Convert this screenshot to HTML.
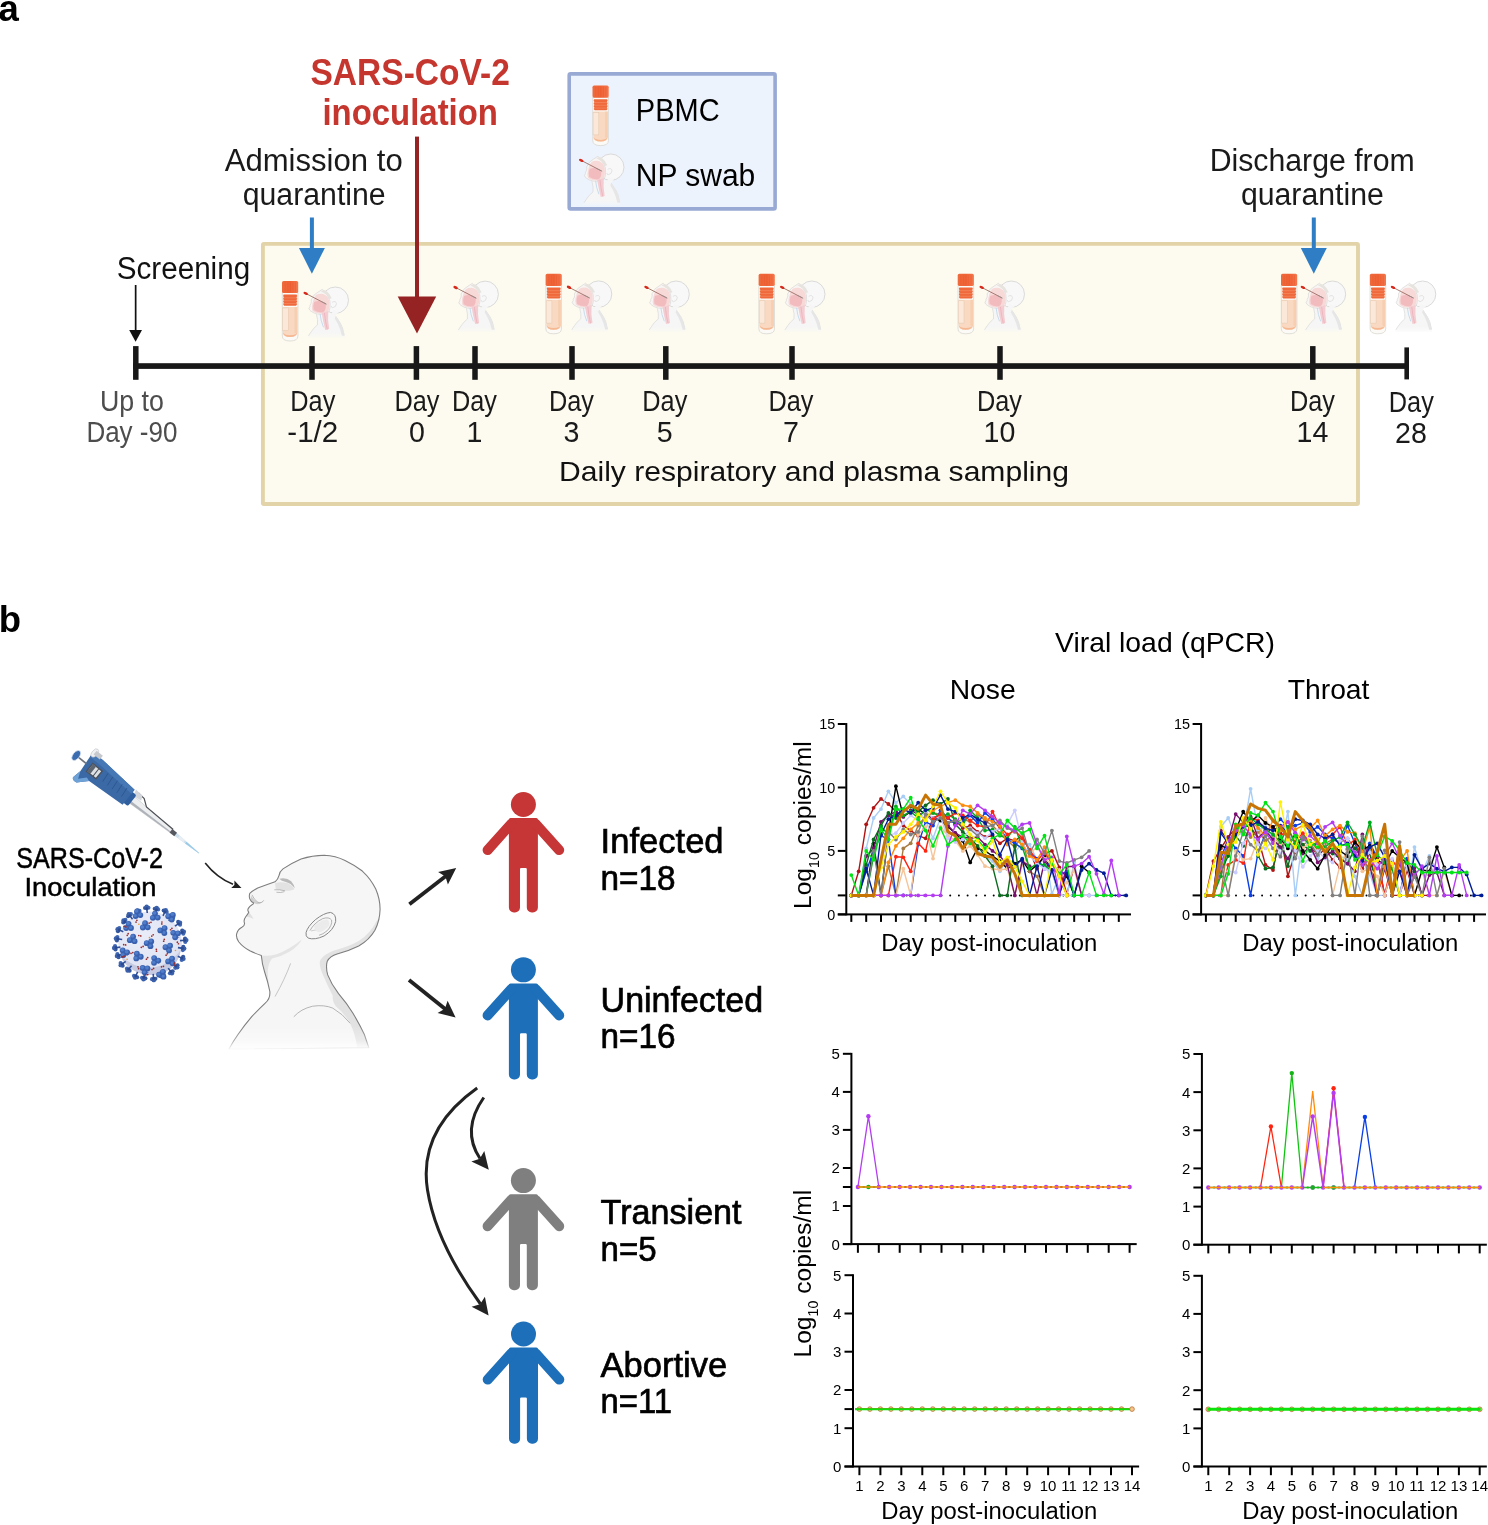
<!DOCTYPE html>
<html lang="en"><head><meta charset="utf-8"><title>Figure</title>
<style>
html,body{margin:0;padding:0;background:#fff;}
svg{display:block;font-family:'Liberation Sans', sans-serif;}
</style></head>
<body>
<svg width="1488" height="1525" viewBox="0 0 1488 1525">
<rect width="1488" height="1525" fill="#fff"/>

<defs>
<linearGradient id="capg" x1="0" x2="1" y1="0" y2="0">
 <stop offset="0" stop-color="#ee6a3c"/><stop offset="0.5" stop-color="#ef6236"/><stop offset="1" stop-color="#f4774d"/>
</linearGradient>
<linearGradient id="bodyfade" x1="0" x2="0" y1="0" y2="1">
 <stop offset="0" stop-color="#f6f6f6"/><stop offset="0.8" stop-color="#f6f6f6"/><stop offset="1" stop-color="#f6f6f6" stop-opacity="0.35"/>
</linearGradient>
<g id="tube">
 <path d="M0.3 11.5 V55 Q0.3 60 8 60 Q15.9 60 15.9 55 V11.5 Z" fill="#fbfaf6" stroke="#d4d2cc" stroke-width="0.7"/>
 <path d="M0.9 26 H15.3 V52 Q15.3 56 8 56 Q0.9 56 0.9 52 Z" fill="#f9d9c1"/>
 <path d="M0.9 50 Q0.9 56 8 56 Q15.3 56 15.3 50 Q15.3 54.3 8 54.3 Q0.9 54.3 0.9 50Z" fill="#f5b892"/>
 <rect x="12.6" y="26" width="2.7" height="26" fill="#f6c9a8" opacity="0.7"/>
 <rect x="0.6" y="27" width="5.7" height="22.3" fill="#fbe8d8" stroke="#e3c9b4" stroke-width="0.5"/>
 <path d="M1.6 13.6 H14.6 L15.2 15 L14.4 16.4 L15.2 17.8 L14.4 19.2 L15.2 20.6 L14.4 22 L15 23.4 L14 24.7 H2.2 L1.2 23.4 L1.9 22 L1.1 20.6 L1.9 19.2 L1.1 17.8 L1.9 16.4 L1.1 15 Z" fill="#f0693c"/>
 <path d="M1.5 16.9 H14.8 M1.5 19.7 H14.8 M1.5 22.5 H14.8" stroke="#f58a62" stroke-width="0.7"/>
 <rect x="0" y="0" width="16.2" height="12.1" rx="1.6" fill="url(#capg)"/>
 <path d="M3.2 1.5 V11 M5.8 1.5 V11 M8.4 1.5 V11 M11 1.5 V11 M13.4 1.5 V11" stroke="#e85a2e" stroke-width="0.8" opacity="0.7"/>
</g>
<g id="swabhead">
 <path d="M9.1 28.5 Q10.8 34 10.2 39.2 Q6 42.5 3.8 46.2 Q1.5 49.5 0 52 H37.6 Q37.4 49 37.1 48.9 Q35.5 41 32.8 37.1 Q29 31.5 26.3 27.4 Z" fill="url(#bodyfade)"/>
 <path d="M9.1 28.5 Q10.8 34 10.2 39.2 Q6 42.5 3.8 46.2 Q2.4 48.2 1.2 50.2 M36.9 49.5 Q35.5 41 32.8 37.1 Q29 31.5 26.3 27.4" fill="none" stroke="#d9d9d9" stroke-width="0.7"/>
 <path d="M27.5 29 Q31 33 33.5 38.5 Q36 44.5 37.2 50 L34.6 50 Q33 43 30.5 38 Q28 33 25.5 30Z" fill="#e6e6e6"/>
 <circle cx="28" cy="14.5" r="13.2" fill="#f8f8f8" stroke="#d2d2d2" stroke-width="0.8"/>
 <path d="M26 24 Q30 27 33 25 Q28 29 27.5 33 L24 29Z" fill="#f6f6f6"/>
 <path d="M15 3.6 Q10.5 6.5 7 9.1 Q5.6 11.5 3.8 14.2 Q4.4 16 3.6 18 L2.6 19.8 Q3.2 21 1.6 22.6 Q2 24.6 3.8 25.6 Q6.5 27.6 10.2 28.3 L16.1 28.6 Q19.5 28.6 21.4 26.3 Q22.8 23.5 22.8 19.9 Q23.2 14.5 21 11.3 Q19 6 15 3.6Z" fill="#f8f6f5" stroke="#d4d0d0" stroke-width="0.6"/>
 <path d="M8.6 9.4 Q11.5 7.6 14.6 8 Q19 8.8 20.8 12 Q22.6 15.5 22.2 19.9 Q22 24 20.6 26 Q18.8 28 16.1 27.9 L11 27.5 Q7.4 27 5.2 25 Q4.2 22 5 18.5 Q5.8 13 8.6 9.4Z" fill="#f7d9d8"/>
 <path d="M6.8 16.2 Q12 13.6 18.3 17.6 Q19.3 23.6 16 26.6 Q10.4 27.2 6.4 24.4 Q5.4 19.6 6.8 16.2Z" fill="#f1b8bd" opacity="0.9"/>
 <path d="M14.2 26.2 Q15.8 36 17.9 44.2 L21.9 43.4 Q20.2 34 21 25 Q18 27.2 14.2 26.2Z" fill="#f4cdd2"/>
 <path d="M17.2 27.2 Q18 36 20 43.8" stroke="#eaaeb8" stroke-width="0.7" fill="none"/>
 <path d="M12.8 28.2 Q13.4 35 16.2 41.6" stroke="#bfd9ec" stroke-width="0.9" fill="none"/>
 <path d="M13.4 5.6 Q16 3.8 18.6 4.8 Q22.4 7.8 24.4 12.6 L22 13.2 Q19.4 8.2 13.4 5.6Z" fill="#e7e3de"/>
 <path d="M24.8 16.6 Q28.6 14.6 29.2 18 Q29 21.4 25.4 22 Q23.6 21.6 24.2 20.4" fill="#f8f8f8" stroke="#d4d4d4" stroke-width="0.6"/>
 <line x1="-1.2" y1="7.9" x2="18.8" y2="18.3" stroke="#8f5f55" stroke-width="0.8"/>
 <line x1="14" y1="15.8" x2="19.4" y2="18.6" stroke="#9a9a9a" stroke-width="0.7"/>
 <ellipse cx="-1.6" cy="7.7" rx="2.4" ry="1.35" transform="rotate(27 -1.6 7.7)" fill="#d6281b"/>
</g>
</defs>

<text x="-1.5" y="20.5" font-size="36.5" font-weight="bold" fill="#000">a</text>
<rect x="262.9" y="243.9" width="1095.1" height="260.1" rx="1" fill="#fdfbef" stroke="#e2d4a8" stroke-width="3.9"/>
<rect x="569.2" y="73.9" width="205.9" height="135" rx="1.5" fill="#edf3fc" stroke="#98a9d4" stroke-width="3.6"/>
<use href="#tube" transform="translate(592.5 85.6) scale(1.0 1.0)"/>
<use href="#swabhead" transform="translate(582.8 152.7) scale(1)"/>
<text x="635.8" y="120.7" font-size="31" fill="#000" textLength="83.8" lengthAdjust="spacingAndGlyphs">PBMC</text>
<text x="635.8" y="185.6" font-size="31" fill="#000" textLength="119.5" lengthAdjust="spacingAndGlyphs">NP swab</text>
<text x="410.2" y="85.1" font-size="36" text-anchor="middle" font-weight="bold" fill="#c5362f" textLength="199.5" lengthAdjust="spacingAndGlyphs">SARS-CoV-2</text>
<text x="410.2" y="125" font-size="36" text-anchor="middle" font-weight="bold" fill="#c5362f" textLength="175.5" lengthAdjust="spacingAndGlyphs">inoculation</text>
<rect x="415" y="136.6" width="4" height="165" fill="#952323"/>
<polygon points="397.7,296.5 436.2,296.5 417,333.5" fill="#952323"/>
<text x="313.7" y="170.9" font-size="31" text-anchor="middle" fill="#1a1a1a" textLength="178" lengthAdjust="spacingAndGlyphs">Admission to</text>
<text x="314.2" y="204.9" font-size="31" text-anchor="middle" fill="#1a1a1a" textLength="143" lengthAdjust="spacingAndGlyphs">quarantine</text>
<text x="1312.2" y="171" font-size="31" text-anchor="middle" fill="#1a1a1a" textLength="205" lengthAdjust="spacingAndGlyphs">Discharge from</text>
<text x="1312.4" y="204.8" font-size="31" text-anchor="middle" fill="#1a1a1a" textLength="143" lengthAdjust="spacingAndGlyphs">quarantine</text>
<rect x="309.9" y="217.5" width="4" height="33" fill="#2f7ec5"/>
<polygon points="298.9,247.9 324.9,247.9 311.9,273.7" fill="#2f7ec5"/>
<rect x="1311.8" y="217.5" width="4" height="33" fill="#2f7ec5"/>
<polygon points="1300.8,247.9 1326.8,247.9 1313.8,273.7" fill="#2f7ec5"/>
<text x="116.7" y="279.4" font-size="31" fill="#111" textLength="133.5" lengthAdjust="spacingAndGlyphs">Screening</text>
<rect x="134.8" y="285" width="1.7" height="48" fill="#111"/>
<polygon points="129.2,330 142,330 135.6,341.8" fill="#111"/>
<rect x="133.1" y="363.2" width="1275.9" height="5.7" fill="#181818"/>
<rect x="133.05" y="346.1" width="5.5" height="33.7" fill="#181818"/>
<rect x="309.25" y="346.1" width="5.5" height="33.7" fill="#181818"/>
<rect x="413.65" y="346.1" width="5.5" height="33.7" fill="#181818"/>
<rect x="472.25" y="346.1" width="5.5" height="33.7" fill="#181818"/>
<rect x="569.25" y="346.1" width="5.5" height="33.7" fill="#181818"/>
<rect x="663.05" y="346.1" width="5.5" height="33.7" fill="#181818"/>
<rect x="789.25" y="346.1" width="5.5" height="33.7" fill="#181818"/>
<rect x="997.25" y="346.1" width="5.5" height="33.7" fill="#181818"/>
<rect x="1310.05" y="346.1" width="5.5" height="33.7" fill="#181818"/>
<rect x="1404.4" y="347.4" width="4.6" height="32" fill="#181818"/>
<text x="131.9" y="410.8" font-size="28.6" text-anchor="middle" fill="#4d4d4d" textLength="64" lengthAdjust="spacingAndGlyphs">Up to</text>
<text x="131.9" y="441.8" font-size="28.6" text-anchor="middle" fill="#4d4d4d" textLength="91" lengthAdjust="spacingAndGlyphs">Day -90</text>
<text x="312.8" y="410.9" font-size="28.6" text-anchor="middle" fill="#1a1a1a" textLength="45" lengthAdjust="spacingAndGlyphs">Day</text>
<text x="312.8" y="441.8" font-size="28.6" text-anchor="middle" fill="#1a1a1a" textLength="51" lengthAdjust="spacingAndGlyphs">-1/2</text>
<text x="416.9" y="410.9" font-size="28.6" text-anchor="middle" fill="#1a1a1a" textLength="45" lengthAdjust="spacingAndGlyphs">Day</text>
<text x="416.9" y="441.8" font-size="28.6" text-anchor="middle" fill="#1a1a1a">0</text>
<text x="474.5" y="410.9" font-size="28.6" text-anchor="middle" fill="#1a1a1a" textLength="45" lengthAdjust="spacingAndGlyphs">Day</text>
<text x="474.5" y="441.8" font-size="28.6" text-anchor="middle" fill="#1a1a1a">1</text>
<text x="571.5" y="410.9" font-size="28.6" text-anchor="middle" fill="#1a1a1a" textLength="45" lengthAdjust="spacingAndGlyphs">Day</text>
<text x="571.5" y="441.8" font-size="28.6" text-anchor="middle" fill="#1a1a1a">3</text>
<text x="664.8" y="410.9" font-size="28.6" text-anchor="middle" fill="#1a1a1a" textLength="45" lengthAdjust="spacingAndGlyphs">Day</text>
<text x="664.8" y="441.8" font-size="28.6" text-anchor="middle" fill="#1a1a1a">5</text>
<text x="791" y="410.9" font-size="28.6" text-anchor="middle" fill="#1a1a1a" textLength="45" lengthAdjust="spacingAndGlyphs">Day</text>
<text x="791" y="441.8" font-size="28.6" text-anchor="middle" fill="#1a1a1a">7</text>
<text x="999.5" y="410.9" font-size="28.6" text-anchor="middle" fill="#1a1a1a" textLength="45" lengthAdjust="spacingAndGlyphs">Day</text>
<text x="999.5" y="441.8" font-size="28.6" text-anchor="middle" fill="#1a1a1a">10</text>
<text x="1312.4" y="410.9" font-size="28.6" text-anchor="middle" fill="#1a1a1a" textLength="45" lengthAdjust="spacingAndGlyphs">Day</text>
<text x="1312.4" y="441.8" font-size="28.6" text-anchor="middle" fill="#1a1a1a">14</text>
<text x="1411.3" y="412.2" font-size="28.6" text-anchor="middle" fill="#1a1a1a" textLength="45" lengthAdjust="spacingAndGlyphs">Day</text>
<text x="1411" y="443.4" font-size="28.6" text-anchor="middle" fill="#1a1a1a">28</text>
<text x="814" y="480.5" font-size="27.4" text-anchor="middle" fill="#111" textLength="510" lengthAdjust="spacingAndGlyphs">Daily respiratory and plasma sampling</text>
<use href="#tube" transform="translate(282 281) scale(1 1)"/>
<use href="#swabhead" transform="translate(307.3 285.7) scale(1)"/>
<use href="#swabhead" transform="translate(457.2 279.8) scale(1)"/>
<use href="#tube" transform="translate(545.6 273.8) scale(1 1)"/>
<use href="#swabhead" transform="translate(570.6 279.6) scale(1)"/>
<use href="#swabhead" transform="translate(648.1 279.7) scale(1)"/>
<use href="#tube" transform="translate(758.6 273.8) scale(1 1)"/>
<use href="#swabhead" transform="translate(783.8 279.7) scale(1)"/>
<use href="#tube" transform="translate(957.7 273.8) scale(1 1)"/>
<use href="#swabhead" transform="translate(983.3 279.7) scale(1)"/>
<use href="#tube" transform="translate(1281 273.8) scale(1 1)"/>
<use href="#swabhead" transform="translate(1304.5 279.7) scale(1)"/>
<use href="#tube" transform="translate(1369.8 273.8) scale(1 1)"/>
<use href="#swabhead" transform="translate(1394.6 279.7) scale(1)"/>

<defs>
<radialGradient id="virg" cx="0.4" cy="0.35" r="0.75">
 <stop offset="0" stop-color="#e9ecf8"/><stop offset="0.75" stop-color="#e1e4f3"/><stop offset="1" stop-color="#ccd1e8"/>
</radialGradient>
<linearGradient id="headg" x1="0" x2="1" y1="0" y2="0.3">
 <stop offset="0" stop-color="#f6f6f6"/><stop offset="0.6" stop-color="#f1f1f1"/><stop offset="1" stop-color="#e9e9e9"/>
</linearGradient>
<linearGradient id="hfadeg" x1="0" x2="0" y1="0" y2="1" gradientUnits="userSpaceOnUse" >
</linearGradient>
<linearGradient id="hf" gradientUnits="userSpaceOnUse" x1="0" y1="1026" x2="0" y2="1050">
 <stop offset="0" stop-color="#fff"/><stop offset="0.6" stop-color="#aaa"/><stop offset="1" stop-color="#000"/>
</linearGradient>
<mask id="hfade" maskUnits="userSpaceOnUse" x="215" y="840" width="185" height="220">
 <rect x="215" y="840" width="185" height="220" fill="url(#hf)"/>
</mask>
</defs>

<text x="-1.2" y="632.4" font-size="36.5" font-weight="bold" fill="#000">b</text>
<text x="89.6" y="867.9" font-size="28.6" text-anchor="middle" fill="#000" textLength="146.5" lengthAdjust="spacingAndGlyphs" stroke="#000" stroke-width="0.5">SARS-CoV-2</text>
<text x="90.4" y="895.9" font-size="26.2" text-anchor="middle" fill="#000" textLength="132" lengthAdjust="spacingAndGlyphs" stroke="#000" stroke-width="0.5">Inoculation</text>
<g transform="translate(76.2 755.5) rotate(38.45)"><polygon points="126,-1.9 126,1.9 157,0.35 157,-0.1" fill="#cfe0ee"/><polygon points="131,-1.5 131,1.6 138,1.3 138,-1.2" fill="#e9eef3"/><polygon points="140,-1.0 140,1.2 157,0.35 157,-0.1" fill="#9ccbe8"/><polygon points="70,-4.2 70,4.2 124,1.9 124,-1.7" fill="#eceef0" stroke="#bfc2c7" stroke-width="0.5"/><polygon points="70,1.6 70,4.2 124,1.9 124,0.7" fill="#aeb2b9"/><rect x="121" y="-2.2" width="6" height="4.4" fill="#55585e"/><path d="M72 -9.5 L80 -8.6 L87 -3.4 L122 -2.4" stroke="#4c4f55" stroke-width="1.2" fill="none"/><polygon points="68,-10.5 77,-9.6 79,-5 70,-4.2" fill="#d2d5d9"/><rect x="62" y="-6.5" width="10" height="14" rx="2" fill="#2f5f9f"/><path d="M11 -13 L24 -13 L67 -9.5 L67 9.8 L26 12 L17 21 Q12 22 11 19 L13 9.5 Z" fill="#3b69a6"/><path d="M11 -13 L24 -13 L67 -9.5 L67 -4.5 L24 -7.5 L12 -7.5 Z" fill="#4678b6"/><path d="M13 9.5 L11 19 Q12 22 17 21 L26 12 L22 10.5 L16 17 Z" fill="#6ea1d6"/><line x1="36" y1="-6" x2="37" y2="4" stroke="#2c5792" stroke-width="0.9"/><line x1="42" y1="-6" x2="43" y2="4" stroke="#2c5792" stroke-width="0.9"/><line x1="48" y1="-6" x2="49" y2="4" stroke="#2c5792" stroke-width="0.9"/><line x1="54" y1="-6" x2="55" y2="4" stroke="#2c5792" stroke-width="0.9"/><line x1="60" y1="-6" x2="61" y2="4" stroke="#2c5792" stroke-width="0.9"/><rect x="18" y="-4" width="12" height="10" fill="#dfe2e5" stroke="#4a525e" stroke-width="1.4"/><rect x="18.5" y="-3.5" width="4" height="9" fill="#5d6570"/><line x1="26" y1="-4" x2="26" y2="6" stroke="#4a525e" stroke-width="1"/><ellipse cx="13" cy="-13.5" rx="2.8" ry="4.8" fill="#f0f1f3" stroke="#b5b8be" stroke-width="0.5"/><rect x="13" y="-16.5" width="8" height="5" fill="#c6c9ce"/><rect x="1" y="-0.9" width="12" height="1.8" fill="#70757d"/><ellipse cx="0" cy="0" rx="3.3" ry="5.8" fill="#3b6cb0" stroke="#dbe4f1" stroke-width="0.7"/></g>
<g transform="translate(105 900) scale(0.0605)"><circle cx="745" cy="715" r="525" fill="url(#virg)"/><path d="M262 920 Q480 1130 760 1120 Q1060 1090 1250 830 Q1230 1010 1080 1140 Q920 1260 700 1238 Q480 1200 340 1060 Q280 990 262 920Z" fill="#c3c8e0" opacity="0.9"/><line x1="698" y1="215" x2="690" y2="130" stroke="#2f4f9a" stroke-width="26"/><circle cx="662" cy="133" r="34" fill="#35589f"/><circle cx="718" cy="127" r="34" fill="#4068b6"/><circle cx="688" cy="110" r="36" fill="#3a60ac"/><circle cx="691" cy="142" r="26" fill="#2c4a90"/><line x1="834" y1="234" x2="850" y2="150" stroke="#2f4f9a" stroke-width="26"/><circle cx="822" cy="145" r="34" fill="#35589f"/><circle cx="878" cy="155" r="34" fill="#4068b6"/><circle cx="854" cy="130" r="36" fill="#3a60ac"/><circle cx="848" cy="162" r="26" fill="#2c4a90"/><line x1="959" y1="262" x2="995" y2="185" stroke="#2f4f9a" stroke-width="26"/><circle cx="970" cy="173" r="34" fill="#35589f"/><circle cx="1020" cy="197" r="34" fill="#4068b6"/><circle cx="1004" cy="167" r="36" fill="#3a60ac"/><circle cx="990" cy="196" r="26" fill="#2c4a90"/><line x1="1051" y1="341" x2="1105" y2="275" stroke="#2f4f9a" stroke-width="26"/><circle cx="1083" cy="257" r="34" fill="#35589f"/><circle cx="1127" cy="293" r="34" fill="#4068b6"/><circle cx="1118" cy="260" r="36" fill="#3a60ac"/><circle cx="1097" cy="284" r="26" fill="#2c4a90"/><line x1="1155" y1="433" x2="1225" y2="385" stroke="#2f4f9a" stroke-width="26"/><circle cx="1209" cy="362" r="34" fill="#35589f"/><circle cx="1241" cy="408" r="34" fill="#4068b6"/><circle cx="1241" cy="374" r="36" fill="#3a60ac"/><circle cx="1215" cy="392" r="26" fill="#2c4a90"/><line x1="1205" y1="558" x2="1285" y2="530" stroke="#2f4f9a" stroke-width="26"/><circle cx="1276" cy="504" r="34" fill="#35589f"/><circle cx="1294" cy="556" r="34" fill="#4068b6"/><circle cx="1304" cy="524" r="36" fill="#3a60ac"/><circle cx="1274" cy="534" r="26" fill="#2c4a90"/><line x1="1240" y1="672" x2="1325" y2="665" stroke="#2f4f9a" stroke-width="26"/><circle cx="1323" cy="637" r="34" fill="#35589f"/><circle cx="1327" cy="693" r="34" fill="#4068b6"/><circle cx="1345" cy="663" r="36" fill="#3a60ac"/><circle cx="1313" cy="666" r="26" fill="#2c4a90"/><line x1="1206" y1="787" x2="1290" y2="800" stroke="#2f4f9a" stroke-width="26"/><circle cx="1294" cy="772" r="34" fill="#35589f"/><circle cx="1286" cy="828" r="34" fill="#4068b6"/><circle cx="1310" cy="803" r="36" fill="#3a60ac"/><circle cx="1278" cy="798" r="26" fill="#2c4a90"/><line x1="1203" y1="929" x2="1280" y2="965" stroke="#2f4f9a" stroke-width="26"/><circle cx="1292" cy="940" r="34" fill="#35589f"/><circle cx="1268" cy="990" r="34" fill="#4068b6"/><circle cx="1298" cy="973" r="36" fill="#3a60ac"/><circle cx="1269" cy="960" r="26" fill="#2c4a90"/><line x1="1116" y1="1044" x2="1180" y2="1100" stroke="#2f4f9a" stroke-width="26"/><circle cx="1199" cy="1079" r="34" fill="#35589f"/><circle cx="1161" cy="1121" r="34" fill="#4068b6"/><circle cx="1195" cy="1113" r="36" fill="#3a60ac"/><circle cx="1171" cy="1092" r="26" fill="#2c4a90"/><line x1="1045" y1="1126" x2="1095" y2="1195" stroke="#2f4f9a" stroke-width="26"/><circle cx="1118" cy="1179" r="34" fill="#35589f"/><circle cx="1072" cy="1211" r="34" fill="#4068b6"/><circle cx="1107" cy="1211" r="36" fill="#3a60ac"/><circle cx="1088" cy="1185" r="26" fill="#2c4a90"/><line x1="915" y1="1170" x2="945" y2="1250" stroke="#2f4f9a" stroke-width="26"/><circle cx="971" cy="1240" r="34" fill="#35589f"/><circle cx="919" cy="1260" r="34" fill="#4068b6"/><circle cx="952" cy="1269" r="36" fill="#3a60ac"/><circle cx="941" cy="1239" r="26" fill="#2c4a90"/><line x1="796" y1="1220" x2="805" y2="1305" stroke="#2f4f9a" stroke-width="26"/><circle cx="833" cy="1302" r="34" fill="#35589f"/><circle cx="777" cy="1308" r="34" fill="#4068b6"/><circle cx="807" cy="1325" r="36" fill="#3a60ac"/><circle cx="804" cy="1293" r="26" fill="#2c4a90"/><line x1="655" y1="1206" x2="640" y2="1290" stroke="#2f4f9a" stroke-width="26"/><circle cx="668" cy="1295" r="34" fill="#35589f"/><circle cx="612" cy="1285" r="34" fill="#4068b6"/><circle cx="636" cy="1310" r="36" fill="#3a60ac"/><circle cx="642" cy="1278" r="26" fill="#2c4a90"/><line x1="539" y1="1187" x2="505" y2="1265" stroke="#2f4f9a" stroke-width="26"/><circle cx="531" cy="1276" r="34" fill="#35589f"/><circle cx="479" cy="1254" r="34" fill="#4068b6"/><circle cx="497" cy="1283" r="36" fill="#3a60ac"/><circle cx="510" cy="1254" r="26" fill="#2c4a90"/><line x1="439" y1="1085" x2="385" y2="1150" stroke="#2f4f9a" stroke-width="26"/><circle cx="407" cy="1168" r="34" fill="#35589f"/><circle cx="363" cy="1132" r="34" fill="#4068b6"/><circle cx="372" cy="1165" r="36" fill="#3a60ac"/><circle cx="393" cy="1141" r="26" fill="#2c4a90"/><line x1="343" y1="1014" x2="275" y2="1065" stroke="#2f4f9a" stroke-width="26"/><circle cx="292" cy="1087" r="34" fill="#35589f"/><circle cx="258" cy="1043" r="34" fill="#4068b6"/><circle cx="259" cy="1077" r="36" fill="#3a60ac"/><circle cx="285" cy="1058" r="26" fill="#2c4a90"/><line x1="294" y1="889" x2="215" y2="920" stroke="#2f4f9a" stroke-width="26"/><circle cx="225" cy="946" r="34" fill="#35589f"/><circle cx="205" cy="894" r="34" fill="#4068b6"/><circle cx="196" cy="927" r="36" fill="#3a60ac"/><circle cx="226" cy="916" r="26" fill="#2c4a90"/><line x1="254" y1="779" x2="170" y2="790" stroke="#2f4f9a" stroke-width="26"/><circle cx="174" cy="818" r="34" fill="#35589f"/><circle cx="166" cy="762" r="34" fill="#4068b6"/><circle cx="150" cy="793" r="36" fill="#3a60ac"/><circle cx="182" cy="788" r="26" fill="#2c4a90"/><line x1="284" y1="652" x2="200" y2="640" stroke="#2f4f9a" stroke-width="26"/><circle cx="196" cy="668" r="34" fill="#35589f"/><circle cx="204" cy="612" r="34" fill="#4068b6"/><circle cx="180" cy="637" r="36" fill="#3a60ac"/><circle cx="212" cy="642" r="26" fill="#2c4a90"/><line x1="303" y1="524" x2="225" y2="490" stroke="#2f4f9a" stroke-width="26"/><circle cx="214" cy="516" r="34" fill="#35589f"/><circle cx="236" cy="464" r="34" fill="#4068b6"/><circle cx="207" cy="482" r="36" fill="#3a60ac"/><circle cx="236" cy="495" r="26" fill="#2c4a90"/><line x1="384" y1="405" x2="320" y2="350" stroke="#2f4f9a" stroke-width="26"/><circle cx="302" cy="371" r="34" fill="#35589f"/><circle cx="338" cy="329" r="34" fill="#4068b6"/><circle cx="305" cy="337" r="36" fill="#3a60ac"/><circle cx="329" cy="358" r="26" fill="#2c4a90"/><line x1="455" y1="319" x2="405" y2="250" stroke="#2f4f9a" stroke-width="26"/><circle cx="382" cy="267" r="34" fill="#35589f"/><circle cx="428" cy="233" r="34" fill="#4068b6"/><circle cx="393" cy="234" r="36" fill="#3a60ac"/><circle cx="412" cy="260" r="26" fill="#2c4a90"/><line x1="575" y1="269" x2="545" y2="190" stroke="#2f4f9a" stroke-width="26"/><circle cx="519" cy="200" r="34" fill="#35589f"/><circle cx="571" cy="180" r="34" fill="#4068b6"/><circle cx="538" cy="171" r="36" fill="#3a60ac"/><circle cx="549" cy="201" r="26" fill="#2c4a90"/><path d="M635 410 L735 490 L675 465Z" fill="#2c4a94"/><circle cx="706" cy="451" r="48" fill="#3961b0"/><circle cx="698" cy="441" r="30" fill="#4f7dca"/><circle cx="626" cy="455" r="48" fill="#3961b0"/><circle cx="618" cy="445" r="30" fill="#4f7dca"/><circle cx="663" cy="384" r="48" fill="#3961b0"/><circle cx="655" cy="374" r="30" fill="#4f7dca"/><path d="M930 485 L1030 565 L970 540Z" fill="#2c4a94"/><circle cx="981" cy="546" r="48" fill="#3961b0"/><circle cx="973" cy="536" r="30" fill="#4f7dca"/><circle cx="914" cy="503" r="48" fill="#3961b0"/><circle cx="906" cy="493" r="30" fill="#4f7dca"/><circle cx="985" cy="466" r="48" fill="#3961b0"/><circle cx="977" cy="456" r="30" fill="#4f7dca"/><path d="M425 630 L525 710 L465 685Z" fill="#2c4a94"/><circle cx="489" cy="681" r="48" fill="#3961b0"/><circle cx="481" cy="671" r="30" fill="#4f7dca"/><circle cx="411" cy="664" r="48" fill="#3961b0"/><circle cx="403" cy="654" r="30" fill="#4f7dca"/><circle cx="465" cy="605" r="48" fill="#3961b0"/><circle cx="457" cy="595" r="30" fill="#4f7dca"/><path d="M705 700 L805 780 L745 755Z" fill="#2c4a94"/><circle cx="751" cy="763" r="48" fill="#3961b0"/><circle cx="743" cy="753" r="30" fill="#4f7dca"/><circle cx="690" cy="713" r="48" fill="#3961b0"/><circle cx="682" cy="703" r="30" fill="#4f7dca"/><circle cx="764" cy="684" r="48" fill="#3961b0"/><circle cx="756" cy="674" r="30" fill="#4f7dca"/><path d="M1015 770 L1115 850 L1055 825Z" fill="#2c4a94"/><circle cx="1059" cy="834" r="48" fill="#3961b0"/><circle cx="1051" cy="824" r="30" fill="#4f7dca"/><circle cx="1000" cy="781" r="48" fill="#3961b0"/><circle cx="992" cy="771" r="30" fill="#4f7dca"/><circle cx="1076" cy="756" r="48" fill="#3961b0"/><circle cx="1068" cy="746" r="30" fill="#4f7dca"/><path d="M515 910 L615 990 L555 965Z" fill="#2c4a94"/><circle cx="591" cy="936" r="48" fill="#3961b0"/><circle cx="583" cy="926" r="30" fill="#4f7dca"/><circle cx="517" cy="966" r="48" fill="#3961b0"/><circle cx="509" cy="956" r="30" fill="#4f7dca"/><circle cx="527" cy="887" r="48" fill="#3961b0"/><circle cx="519" cy="877" r="30" fill="#4f7dca"/><path d="M805 980 L905 1060 L845 1035Z" fill="#2c4a94"/><circle cx="881" cy="1001" r="48" fill="#3961b0"/><circle cx="873" cy="991" r="30" fill="#4f7dca"/><circle cx="811" cy="1039" r="48" fill="#3961b0"/><circle cx="803" cy="1029" r="30" fill="#4f7dca"/><circle cx="813" cy="960" r="48" fill="#3961b0"/><circle cx="805" cy="950" r="30" fill="#4f7dca"/><path d="M1135 550 L1235 630 L1175 605Z" fill="#2c4a94"/><circle cx="1160" cy="616" r="48" fill="#3961b0"/><circle cx="1152" cy="606" r="30" fill="#4f7dca"/><circle cx="1128" cy="543" r="48" fill="#3961b0"/><circle cx="1120" cy="533" r="30" fill="#4f7dca"/><circle cx="1207" cy="551" r="48" fill="#3961b0"/><circle cx="1199" cy="541" r="30" fill="#4f7dca"/><path d="M360 420 L460 500 L400 475Z" fill="#2c4a94"/><circle cx="430" cy="463" r="48" fill="#3961b0"/><circle cx="422" cy="453" r="30" fill="#4f7dca"/><circle cx="350" cy="463" r="48" fill="#3961b0"/><circle cx="342" cy="453" r="30" fill="#4f7dca"/><circle cx="390" cy="394" r="48" fill="#3961b0"/><circle cx="382" cy="384" r="30" fill="#4f7dca"/><path d="M800 250 L900 330 L840 305Z" fill="#2c4a94"/><circle cx="871" cy="291" r="48" fill="#3961b0"/><circle cx="863" cy="281" r="30" fill="#4f7dca"/><circle cx="791" cy="295" r="48" fill="#3961b0"/><circle cx="783" cy="285" r="30" fill="#4f7dca"/><circle cx="827" cy="224" r="48" fill="#3961b0"/><circle cx="819" cy="214" r="30" fill="#4f7dca"/><path d="M290 850 L390 930 L330 905Z" fill="#2c4a94"/><circle cx="301" cy="912" r="48" fill="#3961b0"/><circle cx="293" cy="902" r="30" fill="#4f7dca"/><circle cx="293" cy="833" r="48" fill="#3961b0"/><circle cx="285" cy="823" r="30" fill="#4f7dca"/><circle cx="366" cy="865" r="48" fill="#3961b0"/><circle cx="358" cy="855" r="30" fill="#4f7dca"/><path d="M1060 990 L1160 1070 L1100 1045Z" fill="#2c4a94"/><circle cx="1117" cy="1047" r="48" fill="#3961b0"/><circle cx="1109" cy="1037" r="30" fill="#4f7dca"/><circle cx="1044" cy="1015" r="48" fill="#3961b0"/><circle cx="1036" cy="1005" r="30" fill="#4f7dca"/><circle cx="1109" cy="968" r="48" fill="#3961b0"/><circle cx="1101" cy="958" r="30" fill="#4f7dca"/><path d="M630 1130 L730 1210 L670 1185Z" fill="#2c4a94"/><circle cx="655" cy="1196" r="48" fill="#3961b0"/><circle cx="647" cy="1186" r="30" fill="#4f7dca"/><circle cx="623" cy="1123" r="48" fill="#3961b0"/><circle cx="615" cy="1113" r="30" fill="#4f7dca"/><circle cx="702" cy="1131" r="48" fill="#3961b0"/><circle cx="694" cy="1121" r="30" fill="#4f7dca"/><path d="M910 1210 L1010 1290 L950 1265Z" fill="#2c4a94"/><circle cx="967" cy="1267" r="48" fill="#3961b0"/><circle cx="959" cy="1257" r="30" fill="#4f7dca"/><circle cx="894" cy="1234" r="48" fill="#3961b0"/><circle cx="886" cy="1224" r="30" fill="#4f7dca"/><circle cx="959" cy="1188" r="48" fill="#3961b0"/><circle cx="951" cy="1178" r="30" fill="#4f7dca"/><path d="M1060 260 L1160 340 L1100 315Z" fill="#2c4a94"/><circle cx="1103" cy="324" r="48" fill="#3961b0"/><circle cx="1095" cy="314" r="30" fill="#4f7dca"/><circle cx="1045" cy="269" r="48" fill="#3961b0"/><circle cx="1037" cy="259" r="30" fill="#4f7dca"/><circle cx="1122" cy="246" r="48" fill="#3961b0"/><circle cx="1114" cy="236" r="30" fill="#4f7dca"/><path d="M510 215 L610 295 L550 270Z" fill="#2c4a94"/><circle cx="584" cy="249" r="48" fill="#3961b0"/><circle cx="576" cy="239" r="30" fill="#4f7dca"/><circle cx="506" cy="266" r="48" fill="#3961b0"/><circle cx="498" cy="256" r="30" fill="#4f7dca"/><circle cx="530" cy="190" r="48" fill="#3961b0"/><circle cx="522" cy="180" r="30" fill="#4f7dca"/><circle cx="527" cy="335" r="14" fill="#9a2b2b"/><circle cx="513" cy="365" r="14" fill="#9a2b2b"/><circle cx="760" cy="369" r="14" fill="#9a2b2b"/><circle cx="730" cy="381" r="14" fill="#9a2b2b"/><circle cx="941" cy="364" r="14" fill="#9a2b2b"/><circle cx="939" cy="396" r="14" fill="#9a2b2b"/><circle cx="1106" cy="468" r="14" fill="#9a2b2b"/><circle cx="1084" cy="492" r="14" fill="#9a2b2b"/><circle cx="383" cy="556" r="14" fill="#9a2b2b"/><circle cx="367" cy="584" r="14" fill="#9a2b2b"/><circle cx="559" cy="587" r="14" fill="#9a2b2b"/><circle cx="591" cy="593" r="14" fill="#9a2b2b"/><circle cx="797" cy="574" r="14" fill="#9a2b2b"/><circle cx="773" cy="596" r="14" fill="#9a2b2b"/><circle cx="980" cy="650" r="14" fill="#9a2b2b"/><circle cx="970" cy="680" r="14" fill="#9a2b2b"/><circle cx="1196" cy="697" r="14" fill="#9a2b2b"/><circle cx="1214" cy="723" r="14" fill="#9a2b2b"/><circle cx="309" cy="738" r="14" fill="#9a2b2b"/><circle cx="341" cy="742" r="14" fill="#9a2b2b"/><circle cx="630" cy="768" r="14" fill="#9a2b2b"/><circle cx="600" cy="782" r="14" fill="#9a2b2b"/><circle cx="849" cy="814" r="14" fill="#9a2b2b"/><circle cx="851" cy="846" r="14" fill="#9a2b2b"/><circle cx="1030" cy="888" r="14" fill="#9a2b2b"/><circle cx="1010" cy="912" r="14" fill="#9a2b2b"/><circle cx="460" cy="869" r="14" fill="#9a2b2b"/><circle cx="430" cy="881" r="14" fill="#9a2b2b"/><circle cx="705" cy="952" r="14" fill="#9a2b2b"/><circle cx="685" cy="978" r="14" fill="#9a2b2b"/><circle cx="966" cy="1096" r="14" fill="#9a2b2b"/><circle cx="934" cy="1104" r="14" fill="#9a2b2b"/><circle cx="545" cy="1105" r="14" fill="#9a2b2b"/><circle cx="555" cy="1135" r="14" fill="#9a2b2b"/><circle cx="803" cy="1131" r="14" fill="#9a2b2b"/><circle cx="777" cy="1149" r="14" fill="#9a2b2b"/><circle cx="1147" cy="1044" r="14" fill="#9a2b2b"/><circle cx="1153" cy="1076" r="14" fill="#9a2b2b"/><circle cx="706" cy="1232" r="14" fill="#9a2b2b"/><circle cx="674" cy="1238" r="14" fill="#9a2b2b"/><circle cx="315" cy="929" r="14" fill="#9a2b2b"/><circle cx="285" cy="941" r="14" fill="#9a2b2b"/><circle cx="315" cy="435" r="14" fill="#9a2b2b"/><circle cx="345" cy="445" r="14" fill="#9a2b2b"/><circle cx="560" cy="400" r="13" fill="#f0921e"/><circle cx="735" cy="622" r="13" fill="#f0921e"/><circle cx="1165" cy="835" r="13" fill="#f0921e"/><circle cx="365" cy="980" r="13" fill="#f0921e"/></g>
<g mask="url(#hfade)"><g transform="translate(200 840) scale(0.1443)"><path d="M345 370 Q365 350 400 332 Q470 308 520 290 Q542 270 548 245 Q552 218 575 200 Q640 158 700 132 Q780 106 860 106 Q940 110 1005 142 Q1075 176 1125 215 Q1185 270 1218 340 Q1248 410 1248 480 Q1246 560 1212 625 Q1175 690 1100 735 Q1030 770 950 790 Q900 805 882 840 Q870 880 885 935 Q910 1000 960 1065 Q1020 1135 1060 1200 Q1110 1285 1140 1350 L1170 1440 L200 1450 Q230 1395 262 1350 Q310 1280 360 1222 Q410 1170 452 1130 Q488 1100 484 1050 Q470 980 448 915 Q430 860 425 800 Q380 785 345 768 Q295 740 268 705 Q248 675 254 650 Q262 620 290 605 Q312 592 308 575 Q300 555 318 530 Q330 515 338 500 Q326 488 336 472 Q345 458 358 450 Q372 442 372 436 Q352 428 346 410 Q338 392 345 370 Z" fill="#f6f6f6"/><path d="M425 800 Q470 808 530 792 Q620 760 705 690 Q690 730 620 775 Q560 810 500 822 Q475 850 470 900 Q468 960 484 1040 Q470 980 448 915 Q430 860 425 800Z" fill="#e4e4e4"/><path d="M1246 540 Q1246 560 1212 625 Q1175 690 1100 735 Q1030 770 950 790 Q900 805 882 840 Q870 880 885 935 Q910 1000 960 1065 Q1020 1135 1060 1200 Q1110 1285 1140 1350 L1170 1440 L1090 1440 Q1075 1340 1040 1270 Q1000 1200 940 1150 Q915 1120 920 1080 Q880 1000 850 930 Q820 860 835 830 Q860 790 930 765 Q1030 740 1100 700 Q1180 650 1225 560 Z" fill="#e2e2e2"/><path d="M650 1225 Q700 1170 780 1152 Q860 1140 920 1165 Q990 1205 1040 1270" stroke="#9a9a9a" stroke-width="5" fill="none"/><path d="M628 855 Q590 960 520 1085" stroke="#b2b2b2" stroke-width="5" fill="none"/><path d="M520 300 Q560 285 610 300 Q640 315 655 340 Q640 352 600 352 Q555 350 525 340Z" fill="#e2e2e2"/><path d="M550 268 Q600 258 632 285 Q652 308 657 335 Q630 300 590 290 Q565 284 550 268Z" fill="#b9b9b9"/><path d="M515 345 Q550 342 590 352 M530 362 Q560 368 585 358" stroke="#9c9c9c" stroke-width="4.5" fill="none"/><path d="M352 385 Q372 415 400 432 Q425 440 440 420 Q425 445 398 445 Q370 440 352 420Z" fill="#cfcfcf"/><path d="M360 380 Q375 415 402 432 Q430 440 442 418" stroke="#9a9a9a" stroke-width="4.5" fill="none"/><path d="M338 500 Q352 510 372 548 Q350 535 318 530Z" fill="#e0e0e0"/><path d="M735 642 Q745 600 800 552 Q860 505 905 502 Q945 512 940 565 Q925 625 860 665 Q795 695 750 680 Q730 668 735 642Z" fill="#f6f6f6" stroke="#7e7e7e" stroke-width="6.5"/><path d="M762 628 Q790 575 850 545 Q895 530 912 555 Q918 590 880 630 Q850 655 825 660" stroke="#8e8e8e" stroke-width="4.5" fill="none"/><path d="M770 630 Q800 618 830 628 Q850 600 845 560 M800 590 Q815 605 832 600 M860 560 Q880 580 878 610" stroke="#b0b0b0" stroke-width="4" fill="none"/><path d="M790 600 Q830 560 880 550 Q900 560 895 590 Q870 625 830 640 Q800 640 790 600Z" fill="#ebebeb"/><path d="M345 370 Q365 350 400 332 Q470 308 520 290 Q542 270 548 245 Q552 218 575 200 Q640 158 700 132 Q780 106 860 106 Q940 110 1005 142 Q1075 176 1125 215 Q1185 270 1218 340 Q1248 410 1248 480 Q1246 560 1212 625 Q1175 690 1100 735 Q1030 770 950 790 Q900 805 882 840 Q870 880 885 935 Q910 1000 960 1065 Q1020 1135 1060 1200 Q1110 1285 1140 1350 L1170 1440 L200 1450 Q230 1395 262 1350 Q310 1280 360 1222 Q410 1170 452 1130 Q488 1100 484 1050 Q470 980 448 915 Q430 860 425 800 Q380 785 345 768 Q295 740 268 705 Q248 675 254 650 Q262 620 290 605 Q312 592 308 575 Q300 555 318 530 Q330 515 338 500 Q326 488 336 472 Q345 458 358 450 Q372 442 372 436 Q352 428 346 410 Q338 392 345 370 Z" fill="none" stroke="#7e7e7e" stroke-width="7.5" stroke-linejoin="round"/></g></g>
<path d="M205.2 863 Q217 878 233 884.3" stroke="#222" stroke-width="1.6" fill="none"/>
<polygon points="241.5,888.0 231.2,887.9 234.4,884.9 234.4,880.5" fill="#222"/>
<g transform="translate(523.4 804.5)" fill="#c63637" stroke="#c63637"><circle cx="0" cy="0" r="12.5" stroke="none"/><path d="M-12.9 13.6 H12.9 Q14.5 13.6 14.5 15.2 V103 A5 5 0 0 1 9.5 108 H8.4 A5 5 0 0 1 3.4 103 V64.6 Q3.4 63.4 2.2 63.4 H-2.2 Q-3.4 63.4 -3.4 64.6 V103 A5 5 0 0 1 -8.4 108 H-9.5 A5 5 0 0 1 -14.5 103 V15.2 Q-14.5 13.6 -12.9 13.6 Z" stroke="none"/><path d="M-12.2 19.3 L-35.8 45.6 M12.2 19.3 L35.8 45.6" stroke-width="10" stroke-linecap="round" fill="none"/></g>
<g transform="translate(523.4 969.8)" fill="#1c6fb8" stroke="#1c6fb8"><circle cx="0" cy="0" r="12.5" stroke="none"/><path d="M-12.9 13.6 H12.9 Q14.5 13.6 14.5 15.2 V104.7 A5 5 0 0 1 9.5 109.7 H8.4 A5 5 0 0 1 3.4 104.7 V64.6 Q3.4 63.4 2.2 63.4 H-2.2 Q-3.4 63.4 -3.4 64.6 V104.7 A5 5 0 0 1 -8.4 109.7 H-9.5 A5 5 0 0 1 -14.5 104.7 V15.2 Q-14.5 13.6 -12.9 13.6 Z" stroke="none"/><path d="M-12.2 19.3 L-35.8 45.6 M12.2 19.3 L35.8 45.6" stroke-width="10" stroke-linecap="round" fill="none"/></g>
<g transform="translate(523.4 1180.6)" fill="#7f7f7f" stroke="#7f7f7f"><circle cx="0" cy="0" r="12.5" stroke="none"/><path d="M-12.9 13.6 H12.9 Q14.5 13.6 14.5 15.2 V104.7 A5 5 0 0 1 9.5 109.7 H8.4 A5 5 0 0 1 3.4 104.7 V64.6 Q3.4 63.4 2.2 63.4 H-2.2 Q-3.4 63.4 -3.4 64.6 V104.7 A5 5 0 0 1 -8.4 109.7 H-9.5 A5 5 0 0 1 -14.5 104.7 V15.2 Q-14.5 13.6 -12.9 13.6 Z" stroke="none"/><path d="M-12.2 19.3 L-35.8 45.6 M12.2 19.3 L35.8 45.6" stroke-width="10" stroke-linecap="round" fill="none"/></g>
<g transform="translate(523.5 1334)" fill="#1c6fb8" stroke="#1c6fb8"><circle cx="0" cy="0" r="12.5" stroke="none"/><path d="M-12.9 13.6 H12.9 Q14.5 13.6 14.5 15.2 V104.7 A5 5 0 0 1 9.5 109.7 H8.4 A5 5 0 0 1 3.4 104.7 V64.6 Q3.4 63.4 2.2 63.4 H-2.2 Q-3.4 63.4 -3.4 64.6 V104.7 A5 5 0 0 1 -8.4 109.7 H-9.5 A5 5 0 0 1 -14.5 104.7 V15.2 Q-14.5 13.6 -12.9 13.6 Z" stroke="none"/><path d="M-12.2 19.3 L-35.8 45.6 M12.2 19.3 L35.8 45.6" stroke-width="10" stroke-linecap="round" fill="none"/></g>
<text x="600.6" y="852.9" font-size="35" fill="#000" textLength="123" lengthAdjust="spacingAndGlyphs" stroke="#000" stroke-width="0.7">Infected</text>
<text x="600.6" y="889.6" font-size="35" fill="#000" textLength="75" lengthAdjust="spacingAndGlyphs" stroke="#000" stroke-width="0.7">n=18</text>
<text x="600.6" y="1011.5" font-size="35" fill="#000" textLength="162.5" lengthAdjust="spacingAndGlyphs" stroke="#000" stroke-width="0.7">Uninfected</text>
<text x="600.6" y="1048.2" font-size="35" fill="#000" textLength="75" lengthAdjust="spacingAndGlyphs" stroke="#000" stroke-width="0.7">n=16</text>
<text x="600.6" y="1223.8" font-size="35" fill="#000" textLength="141" lengthAdjust="spacingAndGlyphs" stroke="#000" stroke-width="0.7">Transient</text>
<text x="600.6" y="1260.5" font-size="35" fill="#000" textLength="56" lengthAdjust="spacingAndGlyphs" stroke="#000" stroke-width="0.7">n=5</text>
<text x="600.6" y="1376.7" font-size="35" fill="#000" textLength="126.5" lengthAdjust="spacingAndGlyphs" stroke="#000" stroke-width="0.7">Abortive</text>
<text x="600.6" y="1413.3" font-size="35" fill="#000" textLength="71.5" lengthAdjust="spacingAndGlyphs" stroke="#000" stroke-width="0.7">n=11</text>
<line x1="409.4" y1="904.3" x2="445.9" y2="876.0" stroke="#222" stroke-width="3.8"/>
<polygon points="456.2,868.0 447.9,884.5 445.4,876.4 438.1,872.0" fill="#222"/>
<line x1="409" y1="980" x2="445.5" y2="1009.3" stroke="#222" stroke-width="3.8"/>
<polygon points="455.6,1017.4 437.6,1013.1 444.9,1008.8 447.6,1000.7" fill="#222"/>
<path d="M483.8 1097.5 Q461 1130 480 1158.5" stroke="#222" stroke-width="3" fill="none"/>
<polygon points="488.8,1169.8 471.4,1161.6 479.8,1158.8 484.3,1151.1" fill="#222"/>
<path d="M477.2 1088 Q418 1130 427.5 1190 Q436 1243 480.5 1304" stroke="#222" stroke-width="3" fill="none"/>
<polygon points="488.6,1315.6 471.6,1306.7 480.1,1304.2 484.9,1296.8" fill="#222"/>
<text x="1165" y="651.9" font-size="28" text-anchor="middle" fill="#000" textLength="220" lengthAdjust="spacingAndGlyphs">Viral load (qPCR)</text>
<text x="982.7" y="698.9" font-size="28.3" text-anchor="middle" fill="#000">Nose</text>
<text x="1328.6" y="698.9" font-size="28.3" text-anchor="middle" fill="#000">Throat</text>
<line x1="854.5" y1="895.4" x2="1126.2" y2="895.4" stroke="#000" stroke-width="2" stroke-dasharray="0.01 8.69" stroke-linecap="round"/>
<polyline points="851.3,895.4 858.7,871.3 866.2,824.3 873.6,807.8 881.0,798.9 888.4,804.0 895.9,811.6 903.3,825.6 910.7,830.6 918.2,835.7 925.6,838.3 933.0,818.0 940.5,814.1 947.9,823.0 955.3,820.5 962.8,828.1 970.2,825.6 977.6,831.9 985.0,837.0 992.5,835.7 999.9,843.3 1007.3,838.3 1014.8,840.8 1022.2,835.7 1029.6,850.9 1037.0,868.7 1044.5,853.5 1051.9,850.9 1059.3,867.4 1066.8,894.1 1074.2,866.2 1081.6,895.4 1089.1,895.4" fill="none" stroke="#b01414" stroke-width="1.4" stroke-linejoin="round"/>
<g fill="#b01414"><circle cx="851.3" cy="895.4" r="1.9"/><circle cx="858.7" cy="871.3" r="1.9"/><circle cx="866.2" cy="824.3" r="1.9"/><circle cx="873.6" cy="807.8" r="1.9"/><circle cx="881.0" cy="798.9" r="1.9"/><circle cx="888.4" cy="804.0" r="1.9"/><circle cx="895.9" cy="811.6" r="1.9"/><circle cx="903.3" cy="825.6" r="1.9"/><circle cx="910.7" cy="830.6" r="1.9"/><circle cx="918.2" cy="835.7" r="1.9"/><circle cx="925.6" cy="838.3" r="1.9"/><circle cx="933.0" cy="818.0" r="1.9"/><circle cx="940.5" cy="814.1" r="1.9"/><circle cx="947.9" cy="823.0" r="1.9"/><circle cx="955.3" cy="820.5" r="1.9"/><circle cx="962.8" cy="828.1" r="1.9"/><circle cx="970.2" cy="825.6" r="1.9"/><circle cx="977.6" cy="831.9" r="1.9"/><circle cx="985.0" cy="837.0" r="1.9"/><circle cx="992.5" cy="835.7" r="1.9"/><circle cx="999.9" cy="843.3" r="1.9"/><circle cx="1007.3" cy="838.3" r="1.9"/><circle cx="1014.8" cy="840.8" r="1.9"/><circle cx="1022.2" cy="835.7" r="1.9"/><circle cx="1029.6" cy="850.9" r="1.9"/><circle cx="1037.0" cy="868.7" r="1.9"/><circle cx="1044.5" cy="853.5" r="1.9"/><circle cx="1051.9" cy="850.9" r="1.9"/><circle cx="1059.3" cy="867.4" r="1.9"/><circle cx="1066.8" cy="894.1" r="1.9"/><circle cx="1074.2" cy="866.2" r="1.9"/><circle cx="1081.6" cy="895.4" r="1.9"/><circle cx="1089.1" cy="895.4" r="1.9"/></g>
<polyline points="851.3,895.4 858.7,895.4 866.2,848.4 873.6,818.0 881.0,809.1 888.4,791.3 895.9,802.7 903.3,796.4 910.7,804.0 918.2,812.9 925.6,820.5 933.0,838.3 940.5,818.0 947.9,830.6 955.3,835.7 962.8,840.8 970.2,843.3 977.6,850.9 985.0,856.0 992.5,861.1 999.9,871.3 1007.3,858.6 1014.8,852.2 1022.2,843.3 1029.6,844.6 1037.0,859.8 1044.5,848.4 1051.9,894.1 1059.3,876.3 1066.8,895.4 1074.2,862.4 1081.6,895.4 1089.1,895.4 1096.5,895.4" fill="none" stroke="#a8cdf6" stroke-width="1.4" stroke-linejoin="round"/>
<g fill="#a8cdf6"><circle cx="851.3" cy="895.4" r="1.9"/><circle cx="858.7" cy="895.4" r="1.9"/><circle cx="866.2" cy="848.4" r="1.9"/><circle cx="873.6" cy="818.0" r="1.9"/><circle cx="881.0" cy="809.1" r="1.9"/><circle cx="888.4" cy="791.3" r="1.9"/><circle cx="895.9" cy="802.7" r="1.9"/><circle cx="903.3" cy="796.4" r="1.9"/><circle cx="910.7" cy="804.0" r="1.9"/><circle cx="918.2" cy="812.9" r="1.9"/><circle cx="925.6" cy="820.5" r="1.9"/><circle cx="933.0" cy="838.3" r="1.9"/><circle cx="940.5" cy="818.0" r="1.9"/><circle cx="947.9" cy="830.6" r="1.9"/><circle cx="955.3" cy="835.7" r="1.9"/><circle cx="962.8" cy="840.8" r="1.9"/><circle cx="970.2" cy="843.3" r="1.9"/><circle cx="977.6" cy="850.9" r="1.9"/><circle cx="985.0" cy="856.0" r="1.9"/><circle cx="992.5" cy="861.1" r="1.9"/><circle cx="999.9" cy="871.3" r="1.9"/><circle cx="1007.3" cy="858.6" r="1.9"/><circle cx="1014.8" cy="852.2" r="1.9"/><circle cx="1022.2" cy="843.3" r="1.9"/><circle cx="1029.6" cy="844.6" r="1.9"/><circle cx="1037.0" cy="859.8" r="1.9"/><circle cx="1044.5" cy="848.4" r="1.9"/><circle cx="1051.9" cy="894.1" r="1.9"/><circle cx="1059.3" cy="876.3" r="1.9"/><circle cx="1066.8" cy="895.4" r="1.9"/><circle cx="1074.2" cy="862.4" r="1.9"/><circle cx="1081.6" cy="895.4" r="1.9"/><circle cx="1089.1" cy="895.4" r="1.9"/><circle cx="1096.5" cy="895.4" r="1.9"/></g>
<polyline points="851.3,895.4 858.7,895.4 866.2,895.4 873.6,843.3 881.0,895.4 888.4,833.2 895.9,786.2 903.3,816.7 910.7,811.6 918.2,809.1 925.6,814.1 933.0,818.0 940.5,820.5 947.9,826.8 955.3,833.2 962.8,840.8 970.2,862.4 977.6,848.4 985.0,850.9 992.5,856.0 999.9,861.1 1007.3,868.7 1014.8,863.6 1022.2,859.8 1029.6,871.3 1037.0,864.9 1044.5,856.7 1051.9,871.3 1059.3,870.0 1066.8,876.3 1074.2,895.4 1081.6,866.2 1089.1,872.5" fill="none" stroke="#000000" stroke-width="1.4" stroke-linejoin="round"/>
<g fill="#000000"><circle cx="851.3" cy="895.4" r="1.9"/><circle cx="858.7" cy="895.4" r="1.9"/><circle cx="866.2" cy="895.4" r="1.9"/><circle cx="873.6" cy="843.3" r="1.9"/><circle cx="881.0" cy="895.4" r="1.9"/><circle cx="888.4" cy="833.2" r="1.9"/><circle cx="895.9" cy="786.2" r="1.9"/><circle cx="903.3" cy="816.7" r="1.9"/><circle cx="910.7" cy="811.6" r="1.9"/><circle cx="918.2" cy="809.1" r="1.9"/><circle cx="925.6" cy="814.1" r="1.9"/><circle cx="933.0" cy="818.0" r="1.9"/><circle cx="940.5" cy="820.5" r="1.9"/><circle cx="947.9" cy="826.8" r="1.9"/><circle cx="955.3" cy="833.2" r="1.9"/><circle cx="962.8" cy="840.8" r="1.9"/><circle cx="970.2" cy="862.4" r="1.9"/><circle cx="977.6" cy="848.4" r="1.9"/><circle cx="985.0" cy="850.9" r="1.9"/><circle cx="992.5" cy="856.0" r="1.9"/><circle cx="999.9" cy="861.1" r="1.9"/><circle cx="1007.3" cy="868.7" r="1.9"/><circle cx="1014.8" cy="863.6" r="1.9"/><circle cx="1022.2" cy="859.8" r="1.9"/><circle cx="1029.6" cy="871.3" r="1.9"/><circle cx="1037.0" cy="864.9" r="1.9"/><circle cx="1044.5" cy="856.7" r="1.9"/><circle cx="1051.9" cy="871.3" r="1.9"/><circle cx="1059.3" cy="870.0" r="1.9"/><circle cx="1066.8" cy="876.3" r="1.9"/><circle cx="1074.2" cy="895.4" r="1.9"/><circle cx="1081.6" cy="866.2" r="1.9"/><circle cx="1089.1" cy="872.5" r="1.9"/></g>
<polyline points="851.3,895.4 858.7,895.4 866.2,895.4 873.6,895.4 881.0,895.4 888.4,866.2 895.9,895.4 903.3,848.4 910.7,843.3 918.2,825.6 925.6,816.7 933.0,812.9 940.5,814.1 947.9,818.0 955.3,823.0 962.8,819.2 970.2,821.8 977.6,814.1 985.0,820.5 992.5,825.6 999.9,833.2 1007.3,840.8 1014.8,847.1 1022.2,835.7 1029.6,871.3 1037.0,876.3 1044.5,895.4" fill="none" stroke="#a67c42" stroke-width="1.4" stroke-linejoin="round"/>
<g fill="#a67c42"><circle cx="851.3" cy="895.4" r="1.9"/><circle cx="858.7" cy="895.4" r="1.9"/><circle cx="866.2" cy="895.4" r="1.9"/><circle cx="873.6" cy="895.4" r="1.9"/><circle cx="881.0" cy="895.4" r="1.9"/><circle cx="888.4" cy="866.2" r="1.9"/><circle cx="895.9" cy="895.4" r="1.9"/><circle cx="903.3" cy="848.4" r="1.9"/><circle cx="910.7" cy="843.3" r="1.9"/><circle cx="918.2" cy="825.6" r="1.9"/><circle cx="925.6" cy="816.7" r="1.9"/><circle cx="933.0" cy="812.9" r="1.9"/><circle cx="940.5" cy="814.1" r="1.9"/><circle cx="947.9" cy="818.0" r="1.9"/><circle cx="955.3" cy="823.0" r="1.9"/><circle cx="962.8" cy="819.2" r="1.9"/><circle cx="970.2" cy="821.8" r="1.9"/><circle cx="977.6" cy="814.1" r="1.9"/><circle cx="985.0" cy="820.5" r="1.9"/><circle cx="992.5" cy="825.6" r="1.9"/><circle cx="999.9" cy="833.2" r="1.9"/><circle cx="1007.3" cy="840.8" r="1.9"/><circle cx="1014.8" cy="847.1" r="1.9"/><circle cx="1022.2" cy="835.7" r="1.9"/><circle cx="1029.6" cy="871.3" r="1.9"/><circle cx="1037.0" cy="876.3" r="1.9"/><circle cx="1044.5" cy="895.4" r="1.9"/></g>
<polyline points="851.3,895.4 858.7,895.4 866.2,871.3 873.6,850.9 881.0,835.7 888.4,839.5 895.9,895.4 903.3,895.4 910.7,895.4 918.2,844.6 925.6,821.8 933.0,825.6 940.5,810.3 947.9,818.0 955.3,824.3 962.8,821.8 970.2,815.4 977.6,823.0 985.0,812.9 992.5,819.2 999.9,828.1 1007.3,839.5 1014.8,843.3 1022.2,848.4 1029.6,852.2 1037.0,858.6 1044.5,868.7 1051.9,861.1 1059.3,875.1 1066.8,871.3 1074.2,895.4" fill="none" stroke="#0a3ee6" stroke-width="1.4" stroke-linejoin="round"/>
<g fill="#0a3ee6"><circle cx="851.3" cy="895.4" r="1.9"/><circle cx="858.7" cy="895.4" r="1.9"/><circle cx="866.2" cy="871.3" r="1.9"/><circle cx="873.6" cy="850.9" r="1.9"/><circle cx="881.0" cy="835.7" r="1.9"/><circle cx="888.4" cy="839.5" r="1.9"/><circle cx="895.9" cy="895.4" r="1.9"/><circle cx="903.3" cy="895.4" r="1.9"/><circle cx="910.7" cy="895.4" r="1.9"/><circle cx="918.2" cy="844.6" r="1.9"/><circle cx="925.6" cy="821.8" r="1.9"/><circle cx="933.0" cy="825.6" r="1.9"/><circle cx="940.5" cy="810.3" r="1.9"/><circle cx="947.9" cy="818.0" r="1.9"/><circle cx="955.3" cy="824.3" r="1.9"/><circle cx="962.8" cy="821.8" r="1.9"/><circle cx="970.2" cy="815.4" r="1.9"/><circle cx="977.6" cy="823.0" r="1.9"/><circle cx="985.0" cy="812.9" r="1.9"/><circle cx="992.5" cy="819.2" r="1.9"/><circle cx="999.9" cy="828.1" r="1.9"/><circle cx="1007.3" cy="839.5" r="1.9"/><circle cx="1014.8" cy="843.3" r="1.9"/><circle cx="1022.2" cy="848.4" r="1.9"/><circle cx="1029.6" cy="852.2" r="1.9"/><circle cx="1037.0" cy="858.6" r="1.9"/><circle cx="1044.5" cy="868.7" r="1.9"/><circle cx="1051.9" cy="861.1" r="1.9"/><circle cx="1059.3" cy="875.1" r="1.9"/><circle cx="1066.8" cy="871.3" r="1.9"/><circle cx="1074.2" cy="895.4" r="1.9"/></g>
<polyline points="851.3,895.4 858.7,895.4 866.2,895.4 873.6,895.4 881.0,895.4 888.4,895.4 895.9,895.4 903.3,868.7 910.7,895.4 918.2,834.5 925.6,826.8 933.0,858.6 940.5,826.8 947.9,835.7 955.3,840.8 962.8,850.9 970.2,845.9 977.6,854.8 985.0,866.2 992.5,868.7 999.9,870.0 1007.3,868.7 1014.8,895.4 1022.2,864.9 1029.6,853.5 1037.0,847.1 1044.5,858.6 1051.9,864.9 1059.3,870.0 1066.8,882.7 1074.2,870.0 1081.6,895.4" fill="none" stroke="#f5c498" stroke-width="1.4" stroke-linejoin="round"/>
<g fill="#f5c498"><circle cx="851.3" cy="895.4" r="1.9"/><circle cx="858.7" cy="895.4" r="1.9"/><circle cx="866.2" cy="895.4" r="1.9"/><circle cx="873.6" cy="895.4" r="1.9"/><circle cx="881.0" cy="895.4" r="1.9"/><circle cx="888.4" cy="895.4" r="1.9"/><circle cx="895.9" cy="895.4" r="1.9"/><circle cx="903.3" cy="868.7" r="1.9"/><circle cx="910.7" cy="895.4" r="1.9"/><circle cx="918.2" cy="834.5" r="1.9"/><circle cx="925.6" cy="826.8" r="1.9"/><circle cx="933.0" cy="858.6" r="1.9"/><circle cx="940.5" cy="826.8" r="1.9"/><circle cx="947.9" cy="835.7" r="1.9"/><circle cx="955.3" cy="840.8" r="1.9"/><circle cx="962.8" cy="850.9" r="1.9"/><circle cx="970.2" cy="845.9" r="1.9"/><circle cx="977.6" cy="854.8" r="1.9"/><circle cx="985.0" cy="866.2" r="1.9"/><circle cx="992.5" cy="868.7" r="1.9"/><circle cx="999.9" cy="870.0" r="1.9"/><circle cx="1007.3" cy="868.7" r="1.9"/><circle cx="1014.8" cy="895.4" r="1.9"/><circle cx="1022.2" cy="864.9" r="1.9"/><circle cx="1029.6" cy="853.5" r="1.9"/><circle cx="1037.0" cy="847.1" r="1.9"/><circle cx="1044.5" cy="858.6" r="1.9"/><circle cx="1051.9" cy="864.9" r="1.9"/><circle cx="1059.3" cy="870.0" r="1.9"/><circle cx="1066.8" cy="882.7" r="1.9"/><circle cx="1074.2" cy="870.0" r="1.9"/><circle cx="1081.6" cy="895.4" r="1.9"/></g>
<polyline points="851.3,895.4 858.7,895.4 866.2,856.0 873.6,848.4 881.0,821.8 888.4,815.4 895.9,811.6 903.3,816.7 910.7,810.3 918.2,814.1 925.6,812.9 933.0,819.2 940.5,816.7 947.9,825.6 955.3,833.2 962.8,837.0 970.2,838.3 977.6,837.0 985.0,844.6 992.5,850.9 999.9,856.0 1007.3,864.9 1014.8,895.4 1022.2,861.1 1029.6,866.2 1037.0,895.4 1044.5,861.1 1051.9,870.0 1059.3,895.4 1066.8,866.8 1074.2,866.2 1081.6,895.4" fill="none" stroke="#780e6e" stroke-width="1.4" stroke-linejoin="round"/>
<g fill="#780e6e"><circle cx="851.3" cy="895.4" r="1.9"/><circle cx="858.7" cy="895.4" r="1.9"/><circle cx="866.2" cy="856.0" r="1.9"/><circle cx="873.6" cy="848.4" r="1.9"/><circle cx="881.0" cy="821.8" r="1.9"/><circle cx="888.4" cy="815.4" r="1.9"/><circle cx="895.9" cy="811.6" r="1.9"/><circle cx="903.3" cy="816.7" r="1.9"/><circle cx="910.7" cy="810.3" r="1.9"/><circle cx="918.2" cy="814.1" r="1.9"/><circle cx="925.6" cy="812.9" r="1.9"/><circle cx="933.0" cy="819.2" r="1.9"/><circle cx="940.5" cy="816.7" r="1.9"/><circle cx="947.9" cy="825.6" r="1.9"/><circle cx="955.3" cy="833.2" r="1.9"/><circle cx="962.8" cy="837.0" r="1.9"/><circle cx="970.2" cy="838.3" r="1.9"/><circle cx="977.6" cy="837.0" r="1.9"/><circle cx="985.0" cy="844.6" r="1.9"/><circle cx="992.5" cy="850.9" r="1.9"/><circle cx="999.9" cy="856.0" r="1.9"/><circle cx="1007.3" cy="864.9" r="1.9"/><circle cx="1014.8" cy="895.4" r="1.9"/><circle cx="1022.2" cy="861.1" r="1.9"/><circle cx="1029.6" cy="866.2" r="1.9"/><circle cx="1037.0" cy="895.4" r="1.9"/><circle cx="1044.5" cy="861.1" r="1.9"/><circle cx="1051.9" cy="870.0" r="1.9"/><circle cx="1059.3" cy="895.4" r="1.9"/><circle cx="1066.8" cy="866.8" r="1.9"/><circle cx="1074.2" cy="866.2" r="1.9"/><circle cx="1081.6" cy="895.4" r="1.9"/></g>
<polyline points="851.3,895.4 858.7,895.4 866.2,864.9 873.6,839.5 881.0,825.6 888.4,812.9 895.9,818.0 903.3,810.3 910.7,806.5 918.2,811.6 925.6,805.3 933.0,800.2 940.5,804.0 947.9,798.9 955.3,824.3 962.8,831.9 970.2,838.3 977.6,845.9 985.0,856.0 992.5,866.2 999.9,895.4 1007.3,895.4 1014.8,845.9 1022.2,895.4" fill="none" stroke="#0a6a1e" stroke-width="1.4" stroke-linejoin="round"/>
<g fill="#0a6a1e"><circle cx="851.3" cy="895.4" r="1.9"/><circle cx="858.7" cy="895.4" r="1.9"/><circle cx="866.2" cy="864.9" r="1.9"/><circle cx="873.6" cy="839.5" r="1.9"/><circle cx="881.0" cy="825.6" r="1.9"/><circle cx="888.4" cy="812.9" r="1.9"/><circle cx="895.9" cy="818.0" r="1.9"/><circle cx="903.3" cy="810.3" r="1.9"/><circle cx="910.7" cy="806.5" r="1.9"/><circle cx="918.2" cy="811.6" r="1.9"/><circle cx="925.6" cy="805.3" r="1.9"/><circle cx="933.0" cy="800.2" r="1.9"/><circle cx="940.5" cy="804.0" r="1.9"/><circle cx="947.9" cy="798.9" r="1.9"/><circle cx="955.3" cy="824.3" r="1.9"/><circle cx="962.8" cy="831.9" r="1.9"/><circle cx="970.2" cy="838.3" r="1.9"/><circle cx="977.6" cy="845.9" r="1.9"/><circle cx="985.0" cy="856.0" r="1.9"/><circle cx="992.5" cy="866.2" r="1.9"/><circle cx="999.9" cy="895.4" r="1.9"/><circle cx="1007.3" cy="895.4" r="1.9"/><circle cx="1014.8" cy="845.9" r="1.9"/><circle cx="1022.2" cy="895.4" r="1.9"/></g>
<polyline points="851.3,895.4 858.7,895.4 866.2,895.4 873.6,856.0 881.0,826.8 888.4,834.5 895.9,806.5 903.3,815.4 910.7,811.6 918.2,818.0 925.6,809.1 933.0,812.9 940.5,816.7 947.9,814.1 955.3,819.2 962.8,825.6 970.2,810.3 977.6,818.0 985.0,830.6 992.5,829.4 999.9,835.7 1007.3,838.3 1014.8,826.8 1022.2,847.1 1029.6,868.7 1037.0,863.6 1044.5,864.9 1051.9,871.3 1059.3,895.4 1066.8,895.4" fill="none" stroke="#00aa1e" stroke-width="1.4" stroke-linejoin="round"/>
<g fill="#00aa1e"><circle cx="851.3" cy="895.4" r="1.9"/><circle cx="858.7" cy="895.4" r="1.9"/><circle cx="866.2" cy="895.4" r="1.9"/><circle cx="873.6" cy="856.0" r="1.9"/><circle cx="881.0" cy="826.8" r="1.9"/><circle cx="888.4" cy="834.5" r="1.9"/><circle cx="895.9" cy="806.5" r="1.9"/><circle cx="903.3" cy="815.4" r="1.9"/><circle cx="910.7" cy="811.6" r="1.9"/><circle cx="918.2" cy="818.0" r="1.9"/><circle cx="925.6" cy="809.1" r="1.9"/><circle cx="933.0" cy="812.9" r="1.9"/><circle cx="940.5" cy="816.7" r="1.9"/><circle cx="947.9" cy="814.1" r="1.9"/><circle cx="955.3" cy="819.2" r="1.9"/><circle cx="962.8" cy="825.6" r="1.9"/><circle cx="970.2" cy="810.3" r="1.9"/><circle cx="977.6" cy="818.0" r="1.9"/><circle cx="985.0" cy="830.6" r="1.9"/><circle cx="992.5" cy="829.4" r="1.9"/><circle cx="999.9" cy="835.7" r="1.9"/><circle cx="1007.3" cy="838.3" r="1.9"/><circle cx="1014.8" cy="826.8" r="1.9"/><circle cx="1022.2" cy="847.1" r="1.9"/><circle cx="1029.6" cy="868.7" r="1.9"/><circle cx="1037.0" cy="863.6" r="1.9"/><circle cx="1044.5" cy="864.9" r="1.9"/><circle cx="1051.9" cy="871.3" r="1.9"/><circle cx="1059.3" cy="895.4" r="1.9"/><circle cx="1066.8" cy="895.4" r="1.9"/></g>
<polyline points="851.3,895.4 858.7,895.4 866.2,895.4 873.6,895.4 881.0,863.6 888.4,835.7 895.9,833.2 903.3,823.0 910.7,815.4 918.2,820.5 925.6,811.6 933.0,818.0 940.5,816.7 947.9,838.3 955.3,842.1 962.8,839.5 970.2,828.1 977.6,833.2 985.0,838.3 992.5,831.9 999.9,828.1 1007.3,824.3 1014.8,810.3 1022.2,842.1 1029.6,856.0 1037.0,863.6 1044.5,868.7 1051.9,872.5 1059.3,895.4 1066.8,895.4 1074.2,895.4 1081.6,895.4 1089.1,895.4" fill="none" stroke="#cacbff" stroke-width="1.4" stroke-linejoin="round"/>
<g fill="#cacbff"><circle cx="851.3" cy="895.4" r="1.9"/><circle cx="858.7" cy="895.4" r="1.9"/><circle cx="866.2" cy="895.4" r="1.9"/><circle cx="873.6" cy="895.4" r="1.9"/><circle cx="881.0" cy="863.6" r="1.9"/><circle cx="888.4" cy="835.7" r="1.9"/><circle cx="895.9" cy="833.2" r="1.9"/><circle cx="903.3" cy="823.0" r="1.9"/><circle cx="910.7" cy="815.4" r="1.9"/><circle cx="918.2" cy="820.5" r="1.9"/><circle cx="925.6" cy="811.6" r="1.9"/><circle cx="933.0" cy="818.0" r="1.9"/><circle cx="940.5" cy="816.7" r="1.9"/><circle cx="947.9" cy="838.3" r="1.9"/><circle cx="955.3" cy="842.1" r="1.9"/><circle cx="962.8" cy="839.5" r="1.9"/><circle cx="970.2" cy="828.1" r="1.9"/><circle cx="977.6" cy="833.2" r="1.9"/><circle cx="985.0" cy="838.3" r="1.9"/><circle cx="992.5" cy="831.9" r="1.9"/><circle cx="999.9" cy="828.1" r="1.9"/><circle cx="1007.3" cy="824.3" r="1.9"/><circle cx="1014.8" cy="810.3" r="1.9"/><circle cx="1022.2" cy="842.1" r="1.9"/><circle cx="1029.6" cy="856.0" r="1.9"/><circle cx="1037.0" cy="863.6" r="1.9"/><circle cx="1044.5" cy="868.7" r="1.9"/><circle cx="1051.9" cy="872.5" r="1.9"/><circle cx="1059.3" cy="895.4" r="1.9"/><circle cx="1066.8" cy="895.4" r="1.9"/><circle cx="1074.2" cy="895.4" r="1.9"/><circle cx="1081.6" cy="895.4" r="1.9"/><circle cx="1089.1" cy="895.4" r="1.9"/></g>
<polyline points="851.3,895.4 858.7,895.4 866.2,895.4 873.6,895.4 881.0,895.4 888.4,895.4 895.9,856.7 903.3,857.3 910.7,871.3 918.2,843.3 925.6,850.9 933.0,819.2 940.5,814.1 947.9,818.0 955.3,812.9 962.8,815.4 970.2,820.5 977.6,825.6 985.0,826.8 992.5,811.6 999.9,826.8 1007.3,834.5 1014.8,830.6 1022.2,838.3 1029.6,849.7 1037.0,861.1 1044.5,852.2 1051.9,863.6 1059.3,873.8 1066.8,895.4" fill="none" stroke="#ff2410" stroke-width="1.4" stroke-linejoin="round"/>
<g fill="#ff2410"><circle cx="851.3" cy="895.4" r="1.9"/><circle cx="858.7" cy="895.4" r="1.9"/><circle cx="866.2" cy="895.4" r="1.9"/><circle cx="873.6" cy="895.4" r="1.9"/><circle cx="881.0" cy="895.4" r="1.9"/><circle cx="888.4" cy="895.4" r="1.9"/><circle cx="895.9" cy="856.7" r="1.9"/><circle cx="903.3" cy="857.3" r="1.9"/><circle cx="910.7" cy="871.3" r="1.9"/><circle cx="918.2" cy="843.3" r="1.9"/><circle cx="925.6" cy="850.9" r="1.9"/><circle cx="933.0" cy="819.2" r="1.9"/><circle cx="940.5" cy="814.1" r="1.9"/><circle cx="947.9" cy="818.0" r="1.9"/><circle cx="955.3" cy="812.9" r="1.9"/><circle cx="962.8" cy="815.4" r="1.9"/><circle cx="970.2" cy="820.5" r="1.9"/><circle cx="977.6" cy="825.6" r="1.9"/><circle cx="985.0" cy="826.8" r="1.9"/><circle cx="992.5" cy="811.6" r="1.9"/><circle cx="999.9" cy="826.8" r="1.9"/><circle cx="1007.3" cy="834.5" r="1.9"/><circle cx="1014.8" cy="830.6" r="1.9"/><circle cx="1022.2" cy="838.3" r="1.9"/><circle cx="1029.6" cy="849.7" r="1.9"/><circle cx="1037.0" cy="861.1" r="1.9"/><circle cx="1044.5" cy="852.2" r="1.9"/><circle cx="1051.9" cy="863.6" r="1.9"/><circle cx="1059.3" cy="873.8" r="1.9"/><circle cx="1066.8" cy="895.4" r="1.9"/></g>
<polyline points="851.3,895.4 858.7,895.4 866.2,895.4 873.6,895.4 881.0,895.4 888.4,862.4 895.9,845.9 903.3,838.3 910.7,829.4 918.2,823.0 925.6,818.0 933.0,810.3 940.5,806.5 947.9,802.7 955.3,800.2 962.8,805.3 970.2,806.5 977.6,812.9 985.0,818.0 992.5,821.8 999.9,825.6 1007.3,844.6 1014.8,839.5 1022.2,844.6 1029.6,856.0 1037.0,859.8 1044.5,847.1 1051.9,863.6 1059.3,876.3 1066.8,895.4" fill="none" stroke="#ff8c0a" stroke-width="1.4" stroke-linejoin="round"/>
<g fill="#ff8c0a"><circle cx="851.3" cy="895.4" r="1.9"/><circle cx="858.7" cy="895.4" r="1.9"/><circle cx="866.2" cy="895.4" r="1.9"/><circle cx="873.6" cy="895.4" r="1.9"/><circle cx="881.0" cy="895.4" r="1.9"/><circle cx="888.4" cy="862.4" r="1.9"/><circle cx="895.9" cy="845.9" r="1.9"/><circle cx="903.3" cy="838.3" r="1.9"/><circle cx="910.7" cy="829.4" r="1.9"/><circle cx="918.2" cy="823.0" r="1.9"/><circle cx="925.6" cy="818.0" r="1.9"/><circle cx="933.0" cy="810.3" r="1.9"/><circle cx="940.5" cy="806.5" r="1.9"/><circle cx="947.9" cy="802.7" r="1.9"/><circle cx="955.3" cy="800.2" r="1.9"/><circle cx="962.8" cy="805.3" r="1.9"/><circle cx="970.2" cy="806.5" r="1.9"/><circle cx="977.6" cy="812.9" r="1.9"/><circle cx="985.0" cy="818.0" r="1.9"/><circle cx="992.5" cy="821.8" r="1.9"/><circle cx="999.9" cy="825.6" r="1.9"/><circle cx="1007.3" cy="844.6" r="1.9"/><circle cx="1014.8" cy="839.5" r="1.9"/><circle cx="1022.2" cy="844.6" r="1.9"/><circle cx="1029.6" cy="856.0" r="1.9"/><circle cx="1037.0" cy="859.8" r="1.9"/><circle cx="1044.5" cy="847.1" r="1.9"/><circle cx="1051.9" cy="863.6" r="1.9"/><circle cx="1059.3" cy="876.3" r="1.9"/><circle cx="1066.8" cy="895.4" r="1.9"/></g>
<polyline points="851.3,895.4 858.7,895.4 866.2,868.7 873.6,895.4 881.0,834.5 888.4,819.2 895.9,815.4 903.3,809.1 910.7,812.9 918.2,802.7 925.6,810.3 933.0,807.8 940.5,795.1 947.9,809.1 955.3,811.6 962.8,818.0 970.2,814.1 977.6,819.2 985.0,823.0 992.5,834.5 999.9,854.8 1007.3,839.5 1014.8,866.8 1022.2,858.6 1029.6,895.4 1037.0,866.2 1044.5,895.4 1051.9,870.0 1059.3,894.1 1066.8,873.8 1074.2,895.4 1081.6,870.0 1089.1,863.6 1096.5,870.0 1103.9,873.2 1111.3,895.4 1118.8,895.4 1126.2,895.4" fill="none" stroke="#001c96" stroke-width="1.4" stroke-linejoin="round"/>
<g fill="#001c96"><circle cx="851.3" cy="895.4" r="1.9"/><circle cx="858.7" cy="895.4" r="1.9"/><circle cx="866.2" cy="868.7" r="1.9"/><circle cx="873.6" cy="895.4" r="1.9"/><circle cx="881.0" cy="834.5" r="1.9"/><circle cx="888.4" cy="819.2" r="1.9"/><circle cx="895.9" cy="815.4" r="1.9"/><circle cx="903.3" cy="809.1" r="1.9"/><circle cx="910.7" cy="812.9" r="1.9"/><circle cx="918.2" cy="802.7" r="1.9"/><circle cx="925.6" cy="810.3" r="1.9"/><circle cx="933.0" cy="807.8" r="1.9"/><circle cx="940.5" cy="795.1" r="1.9"/><circle cx="947.9" cy="809.1" r="1.9"/><circle cx="955.3" cy="811.6" r="1.9"/><circle cx="962.8" cy="818.0" r="1.9"/><circle cx="970.2" cy="814.1" r="1.9"/><circle cx="977.6" cy="819.2" r="1.9"/><circle cx="985.0" cy="823.0" r="1.9"/><circle cx="992.5" cy="834.5" r="1.9"/><circle cx="999.9" cy="854.8" r="1.9"/><circle cx="1007.3" cy="839.5" r="1.9"/><circle cx="1014.8" cy="866.8" r="1.9"/><circle cx="1022.2" cy="858.6" r="1.9"/><circle cx="1029.6" cy="895.4" r="1.9"/><circle cx="1037.0" cy="866.2" r="1.9"/><circle cx="1044.5" cy="895.4" r="1.9"/><circle cx="1051.9" cy="870.0" r="1.9"/><circle cx="1059.3" cy="894.1" r="1.9"/><circle cx="1066.8" cy="873.8" r="1.9"/><circle cx="1074.2" cy="895.4" r="1.9"/><circle cx="1081.6" cy="870.0" r="1.9"/><circle cx="1089.1" cy="863.6" r="1.9"/><circle cx="1096.5" cy="870.0" r="1.9"/><circle cx="1103.9" cy="873.2" r="1.9"/><circle cx="1111.3" cy="895.4" r="1.9"/><circle cx="1118.8" cy="895.4" r="1.9"/><circle cx="1126.2" cy="895.4" r="1.9"/></g>
<polyline points="851.3,895.4 858.7,895.4 866.2,895.4 873.6,850.9 881.0,895.4 888.4,831.9 895.9,839.5 903.3,829.4 910.7,834.5 918.2,831.9 925.6,814.1 933.0,821.8 940.5,818.0 947.9,823.0 955.3,820.5 962.8,825.6 970.2,829.4 977.6,835.7 985.0,826.8 992.5,825.6 999.9,820.5 1007.3,828.1 1014.8,831.9 1022.2,828.1 1029.6,853.5 1037.0,839.5 1044.5,853.5 1051.9,830.6 1059.3,861.1 1066.8,863.0 1074.2,859.8 1081.6,857.3 1089.1,850.9" fill="none" stroke="#808080" stroke-width="1.4" stroke-linejoin="round"/>
<g fill="#808080"><circle cx="851.3" cy="895.4" r="1.9"/><circle cx="858.7" cy="895.4" r="1.9"/><circle cx="866.2" cy="895.4" r="1.9"/><circle cx="873.6" cy="850.9" r="1.9"/><circle cx="881.0" cy="895.4" r="1.9"/><circle cx="888.4" cy="831.9" r="1.9"/><circle cx="895.9" cy="839.5" r="1.9"/><circle cx="903.3" cy="829.4" r="1.9"/><circle cx="910.7" cy="834.5" r="1.9"/><circle cx="918.2" cy="831.9" r="1.9"/><circle cx="925.6" cy="814.1" r="1.9"/><circle cx="933.0" cy="821.8" r="1.9"/><circle cx="940.5" cy="818.0" r="1.9"/><circle cx="947.9" cy="823.0" r="1.9"/><circle cx="955.3" cy="820.5" r="1.9"/><circle cx="962.8" cy="825.6" r="1.9"/><circle cx="970.2" cy="829.4" r="1.9"/><circle cx="977.6" cy="835.7" r="1.9"/><circle cx="985.0" cy="826.8" r="1.9"/><circle cx="992.5" cy="825.6" r="1.9"/><circle cx="999.9" cy="820.5" r="1.9"/><circle cx="1007.3" cy="828.1" r="1.9"/><circle cx="1014.8" cy="831.9" r="1.9"/><circle cx="1022.2" cy="828.1" r="1.9"/><circle cx="1029.6" cy="853.5" r="1.9"/><circle cx="1037.0" cy="839.5" r="1.9"/><circle cx="1044.5" cy="853.5" r="1.9"/><circle cx="1051.9" cy="830.6" r="1.9"/><circle cx="1059.3" cy="861.1" r="1.9"/><circle cx="1066.8" cy="863.0" r="1.9"/><circle cx="1074.2" cy="859.8" r="1.9"/><circle cx="1081.6" cy="857.3" r="1.9"/><circle cx="1089.1" cy="850.9" r="1.9"/></g>
<polyline points="851.3,895.4 858.7,895.4 866.2,895.4 873.6,895.4 881.0,895.4 888.4,895.4 895.9,895.4 903.3,895.4 910.7,895.4 918.2,895.4 925.6,895.4 933.0,895.4 940.5,895.4 947.9,845.9 955.3,825.6 962.8,810.3 970.2,814.1 977.6,805.3 985.0,810.3 992.5,816.7 999.9,823.0 1007.3,826.8 1014.8,830.6 1022.2,824.3 1029.6,823.0 1037.0,844.6 1044.5,859.8 1051.9,857.3 1059.3,894.1 1066.8,836.4 1074.2,866.2 1081.6,863.6 1089.1,856.7 1096.5,873.8 1103.9,894.1 1111.3,860.5 1118.8,895.4" fill="none" stroke="#b43cf2" stroke-width="1.4" stroke-linejoin="round"/>
<g fill="#b43cf2"><circle cx="851.3" cy="895.4" r="1.9"/><circle cx="858.7" cy="895.4" r="1.9"/><circle cx="866.2" cy="895.4" r="1.9"/><circle cx="873.6" cy="895.4" r="1.9"/><circle cx="881.0" cy="895.4" r="1.9"/><circle cx="888.4" cy="895.4" r="1.9"/><circle cx="895.9" cy="895.4" r="1.9"/><circle cx="903.3" cy="895.4" r="1.9"/><circle cx="910.7" cy="895.4" r="1.9"/><circle cx="918.2" cy="895.4" r="1.9"/><circle cx="925.6" cy="895.4" r="1.9"/><circle cx="933.0" cy="895.4" r="1.9"/><circle cx="940.5" cy="895.4" r="1.9"/><circle cx="947.9" cy="845.9" r="1.9"/><circle cx="955.3" cy="825.6" r="1.9"/><circle cx="962.8" cy="810.3" r="1.9"/><circle cx="970.2" cy="814.1" r="1.9"/><circle cx="977.6" cy="805.3" r="1.9"/><circle cx="985.0" cy="810.3" r="1.9"/><circle cx="992.5" cy="816.7" r="1.9"/><circle cx="999.9" cy="823.0" r="1.9"/><circle cx="1007.3" cy="826.8" r="1.9"/><circle cx="1014.8" cy="830.6" r="1.9"/><circle cx="1022.2" cy="824.3" r="1.9"/><circle cx="1029.6" cy="823.0" r="1.9"/><circle cx="1037.0" cy="844.6" r="1.9"/><circle cx="1044.5" cy="859.8" r="1.9"/><circle cx="1051.9" cy="857.3" r="1.9"/><circle cx="1059.3" cy="894.1" r="1.9"/><circle cx="1066.8" cy="836.4" r="1.9"/><circle cx="1074.2" cy="866.2" r="1.9"/><circle cx="1081.6" cy="863.6" r="1.9"/><circle cx="1089.1" cy="856.7" r="1.9"/><circle cx="1096.5" cy="873.8" r="1.9"/><circle cx="1103.9" cy="894.1" r="1.9"/><circle cx="1111.3" cy="860.5" r="1.9"/><circle cx="1118.8" cy="895.4" r="1.9"/></g>
<polyline points="851.3,875.1 858.7,895.4 866.2,850.9 873.6,859.8 881.0,829.4 888.4,839.5 895.9,809.1 903.3,809.1 910.7,797.7 918.2,819.2 925.6,830.6 933.0,845.9 940.5,828.1 947.9,844.6 955.3,839.5 962.8,835.7 970.2,843.3 977.6,839.5 985.0,848.4 992.5,838.3 999.9,834.5 1007.3,820.5 1014.8,828.1 1022.2,833.2 1029.6,829.4 1037.0,848.4 1044.5,835.7 1051.9,863.6 1059.3,873.8 1066.8,864.9 1074.2,895.4 1081.6,895.4 1089.1,872.5 1096.5,895.4 1103.9,895.4 1111.3,895.4" fill="none" stroke="#00e414" stroke-width="1.4" stroke-linejoin="round"/>
<g fill="#00e414"><circle cx="851.3" cy="875.1" r="1.9"/><circle cx="858.7" cy="895.4" r="1.9"/><circle cx="866.2" cy="850.9" r="1.9"/><circle cx="873.6" cy="859.8" r="1.9"/><circle cx="881.0" cy="829.4" r="1.9"/><circle cx="888.4" cy="839.5" r="1.9"/><circle cx="895.9" cy="809.1" r="1.9"/><circle cx="903.3" cy="809.1" r="1.9"/><circle cx="910.7" cy="797.7" r="1.9"/><circle cx="918.2" cy="819.2" r="1.9"/><circle cx="925.6" cy="830.6" r="1.9"/><circle cx="933.0" cy="845.9" r="1.9"/><circle cx="940.5" cy="828.1" r="1.9"/><circle cx="947.9" cy="844.6" r="1.9"/><circle cx="955.3" cy="839.5" r="1.9"/><circle cx="962.8" cy="835.7" r="1.9"/><circle cx="970.2" cy="843.3" r="1.9"/><circle cx="977.6" cy="839.5" r="1.9"/><circle cx="985.0" cy="848.4" r="1.9"/><circle cx="992.5" cy="838.3" r="1.9"/><circle cx="999.9" cy="834.5" r="1.9"/><circle cx="1007.3" cy="820.5" r="1.9"/><circle cx="1014.8" cy="828.1" r="1.9"/><circle cx="1022.2" cy="833.2" r="1.9"/><circle cx="1029.6" cy="829.4" r="1.9"/><circle cx="1037.0" cy="848.4" r="1.9"/><circle cx="1044.5" cy="835.7" r="1.9"/><circle cx="1051.9" cy="863.6" r="1.9"/><circle cx="1059.3" cy="873.8" r="1.9"/><circle cx="1066.8" cy="864.9" r="1.9"/><circle cx="1074.2" cy="895.4" r="1.9"/><circle cx="1081.6" cy="895.4" r="1.9"/><circle cx="1089.1" cy="872.5" r="1.9"/><circle cx="1096.5" cy="895.4" r="1.9"/><circle cx="1103.9" cy="895.4" r="1.9"/><circle cx="1111.3" cy="895.4" r="1.9"/></g>
<polyline points="851.3,895.4 858.7,895.4 866.2,895.4 873.6,895.4 881.0,867.4 888.4,844.6 895.9,837.0 903.3,831.9 910.7,824.3 918.2,814.1 925.6,820.5 933.0,806.5 940.5,791.3 947.9,802.7 955.3,807.8 962.8,824.3 970.2,834.5 977.6,840.8 985.0,852.2 992.5,840.8 999.9,862.4 1007.3,857.3 1014.8,866.8 1022.2,881.4 1029.6,895.4 1037.0,895.4 1044.5,895.4 1051.9,859.8 1059.3,876.3 1066.8,895.4" fill="none" stroke="#fff200" stroke-width="1.4" stroke-linejoin="round"/>
<g fill="#fff200"><circle cx="851.3" cy="895.4" r="1.9"/><circle cx="858.7" cy="895.4" r="1.9"/><circle cx="866.2" cy="895.4" r="1.9"/><circle cx="873.6" cy="895.4" r="1.9"/><circle cx="881.0" cy="867.4" r="1.9"/><circle cx="888.4" cy="844.6" r="1.9"/><circle cx="895.9" cy="837.0" r="1.9"/><circle cx="903.3" cy="831.9" r="1.9"/><circle cx="910.7" cy="824.3" r="1.9"/><circle cx="918.2" cy="814.1" r="1.9"/><circle cx="925.6" cy="820.5" r="1.9"/><circle cx="933.0" cy="806.5" r="1.9"/><circle cx="940.5" cy="791.3" r="1.9"/><circle cx="947.9" cy="802.7" r="1.9"/><circle cx="955.3" cy="807.8" r="1.9"/><circle cx="962.8" cy="824.3" r="1.9"/><circle cx="970.2" cy="834.5" r="1.9"/><circle cx="977.6" cy="840.8" r="1.9"/><circle cx="985.0" cy="852.2" r="1.9"/><circle cx="992.5" cy="840.8" r="1.9"/><circle cx="999.9" cy="862.4" r="1.9"/><circle cx="1007.3" cy="857.3" r="1.9"/><circle cx="1014.8" cy="866.8" r="1.9"/><circle cx="1022.2" cy="881.4" r="1.9"/><circle cx="1029.6" cy="895.4" r="1.9"/><circle cx="1037.0" cy="895.4" r="1.9"/><circle cx="1044.5" cy="895.4" r="1.9"/><circle cx="1051.9" cy="859.8" r="1.9"/><circle cx="1059.3" cy="876.3" r="1.9"/><circle cx="1066.8" cy="895.4" r="1.9"/></g>
<polyline points="851.3,895.4 858.7,895.4 866.2,895.4 873.6,895.4 881.0,859.8 888.4,824.3 895.9,824.3 903.3,811.6 910.7,805.3 918.2,809.1 925.6,795.1 933.0,804.0 940.5,805.3 947.9,831.9 955.3,835.7 962.8,848.4 970.2,838.3 977.6,853.5 985.0,856.0 992.5,857.3 999.9,867.4 1007.3,859.8 1014.8,873.8 1022.2,895.4 1029.6,895.4 1037.0,895.4 1044.5,895.4 1051.9,895.4 1059.3,895.4" fill="none" stroke="#c87404" stroke-width="3.0" stroke-linejoin="round"/>
<rect x="845.3" y="723.05" width="2" height="192.35000000000002" fill="#000"/>
<rect x="837.8" y="913.4" width="293.20000000000005" height="2" fill="#000"/>
<rect x="837.8" y="723.0" width="8" height="2" fill="#000"/>
<text x="835.3" y="729.2" font-size="14.4" text-anchor="end" fill="#000">15</text>
<rect x="837.8" y="786.5" width="8" height="2" fill="#000"/>
<text x="835.3" y="792.7" font-size="14.4" text-anchor="end" fill="#000">10</text>
<rect x="837.8" y="849.9" width="8" height="2" fill="#000"/>
<text x="835.3" y="856.1" font-size="14.4" text-anchor="end" fill="#000">5</text>
<rect x="837.8" y="894.4" width="8" height="2" fill="#000"/>
<rect x="837.8" y="913.4" width="8" height="2" fill="#000"/>
<text x="835.3" y="919.6" font-size="14.4" text-anchor="end" fill="#000">0</text>
<rect x="850.3" y="914.4" width="2" height="7.5" fill="#000"/>
<rect x="865.2" y="914.4" width="2" height="7.5" fill="#000"/>
<rect x="880.0" y="914.4" width="2" height="7.5" fill="#000"/>
<rect x="894.9" y="914.4" width="2" height="7.5" fill="#000"/>
<rect x="909.7" y="914.4" width="2" height="7.5" fill="#000"/>
<rect x="924.6" y="914.4" width="2" height="7.5" fill="#000"/>
<rect x="939.5" y="914.4" width="2" height="7.5" fill="#000"/>
<rect x="954.3" y="914.4" width="2" height="7.5" fill="#000"/>
<rect x="969.2" y="914.4" width="2" height="7.5" fill="#000"/>
<rect x="984.0" y="914.4" width="2" height="7.5" fill="#000"/>
<rect x="998.9" y="914.4" width="2" height="7.5" fill="#000"/>
<rect x="1013.8" y="914.4" width="2" height="7.5" fill="#000"/>
<rect x="1028.6" y="914.4" width="2" height="7.5" fill="#000"/>
<rect x="1043.5" y="914.4" width="2" height="7.5" fill="#000"/>
<rect x="1058.3" y="914.4" width="2" height="7.5" fill="#000"/>
<rect x="1073.2" y="914.4" width="2" height="7.5" fill="#000"/>
<rect x="1088.1" y="914.4" width="2" height="7.5" fill="#000"/>
<rect x="1102.9" y="914.4" width="2" height="7.5" fill="#000"/>
<rect x="1117.8" y="914.4" width="2" height="7.5" fill="#000"/>
<line x1="1209.9" y1="895.4" x2="1481.6" y2="895.4" stroke="#000" stroke-width="2" stroke-dasharray="0.01 8.69" stroke-linecap="round"/>
<polyline points="1205.9,895.4 1213.4,861.1 1220.8,848.4 1228.2,837.0 1235.7,828.1 1243.2,821.8 1250.6,826.8 1258.1,838.3 1265.5,864.9 1273.0,870.0 1280.4,833.2 1287.9,876.3 1295.3,852.2 1302.8,838.3 1310.2,845.9 1317.7,856.0 1325.1,848.4 1332.6,859.8 1340.0,867.4 1347.5,849.7 1354.9,854.8 1362.4,868.7 1369.8,852.2 1377.2,895.4 1384.7,858.6 1392.2,895.4 1399.6,895.4 1407.1,870.0 1414.5,895.4 1422.0,895.4 1429.4,895.4" fill="none" stroke="#b01414" stroke-width="1.4" stroke-linejoin="round"/>
<g fill="#b01414"><circle cx="1205.9" cy="895.4" r="1.9"/><circle cx="1213.4" cy="861.1" r="1.9"/><circle cx="1220.8" cy="848.4" r="1.9"/><circle cx="1228.2" cy="837.0" r="1.9"/><circle cx="1235.7" cy="828.1" r="1.9"/><circle cx="1243.2" cy="821.8" r="1.9"/><circle cx="1250.6" cy="826.8" r="1.9"/><circle cx="1258.1" cy="838.3" r="1.9"/><circle cx="1265.5" cy="864.9" r="1.9"/><circle cx="1273.0" cy="870.0" r="1.9"/><circle cx="1280.4" cy="833.2" r="1.9"/><circle cx="1287.9" cy="876.3" r="1.9"/><circle cx="1295.3" cy="852.2" r="1.9"/><circle cx="1302.8" cy="838.3" r="1.9"/><circle cx="1310.2" cy="845.9" r="1.9"/><circle cx="1317.7" cy="856.0" r="1.9"/><circle cx="1325.1" cy="848.4" r="1.9"/><circle cx="1332.6" cy="859.8" r="1.9"/><circle cx="1340.0" cy="867.4" r="1.9"/><circle cx="1347.5" cy="849.7" r="1.9"/><circle cx="1354.9" cy="854.8" r="1.9"/><circle cx="1362.4" cy="868.7" r="1.9"/><circle cx="1369.8" cy="852.2" r="1.9"/><circle cx="1377.2" cy="895.4" r="1.9"/><circle cx="1384.7" cy="858.6" r="1.9"/><circle cx="1392.2" cy="895.4" r="1.9"/><circle cx="1399.6" cy="895.4" r="1.9"/><circle cx="1407.1" cy="870.0" r="1.9"/><circle cx="1414.5" cy="895.4" r="1.9"/><circle cx="1422.0" cy="895.4" r="1.9"/><circle cx="1429.4" cy="895.4" r="1.9"/></g>
<polyline points="1205.9,895.4 1213.4,895.4 1220.8,895.4 1228.2,839.5 1235.7,834.5 1243.2,830.6 1250.6,837.0 1258.1,831.9 1265.5,840.8 1273.0,835.7 1280.4,844.6 1287.9,839.5 1295.3,837.0 1302.8,844.6 1310.2,840.8 1317.7,848.4 1325.1,843.3 1332.6,839.5 1340.0,842.1 1347.5,838.3 1354.9,848.4 1362.4,844.6 1369.8,850.9 1377.2,858.6 1384.7,895.4" fill="none" stroke="#a67c42" stroke-width="1.4" stroke-linejoin="round"/>
<g fill="#a67c42"><circle cx="1205.9" cy="895.4" r="1.9"/><circle cx="1213.4" cy="895.4" r="1.9"/><circle cx="1220.8" cy="895.4" r="1.9"/><circle cx="1228.2" cy="839.5" r="1.9"/><circle cx="1235.7" cy="834.5" r="1.9"/><circle cx="1243.2" cy="830.6" r="1.9"/><circle cx="1250.6" cy="837.0" r="1.9"/><circle cx="1258.1" cy="831.9" r="1.9"/><circle cx="1265.5" cy="840.8" r="1.9"/><circle cx="1273.0" cy="835.7" r="1.9"/><circle cx="1280.4" cy="844.6" r="1.9"/><circle cx="1287.9" cy="839.5" r="1.9"/><circle cx="1295.3" cy="837.0" r="1.9"/><circle cx="1302.8" cy="844.6" r="1.9"/><circle cx="1310.2" cy="840.8" r="1.9"/><circle cx="1317.7" cy="848.4" r="1.9"/><circle cx="1325.1" cy="843.3" r="1.9"/><circle cx="1332.6" cy="839.5" r="1.9"/><circle cx="1340.0" cy="842.1" r="1.9"/><circle cx="1347.5" cy="838.3" r="1.9"/><circle cx="1354.9" cy="848.4" r="1.9"/><circle cx="1362.4" cy="844.6" r="1.9"/><circle cx="1369.8" cy="850.9" r="1.9"/><circle cx="1377.2" cy="858.6" r="1.9"/><circle cx="1384.7" cy="895.4" r="1.9"/></g>
<polyline points="1205.9,895.4 1213.4,895.4 1220.8,826.8 1228.2,818.0 1235.7,837.0 1243.2,831.9 1250.6,788.8 1258.1,829.4 1265.5,826.8 1273.0,839.5 1280.4,848.4 1287.9,811.6 1295.3,895.4 1302.8,835.7 1310.2,850.9 1317.7,858.6 1325.1,839.5 1332.6,848.4 1340.0,856.0 1347.5,859.8 1354.9,876.3 1362.4,895.4 1369.8,873.8 1377.2,895.4 1384.7,895.4 1392.2,864.9 1399.6,861.1 1407.1,895.4 1414.5,847.1 1422.0,872.5 1429.4,856.0 1436.9,871.3 1444.3,872.5 1451.8,872.5" fill="none" stroke="#a8cdf6" stroke-width="1.4" stroke-linejoin="round"/>
<g fill="#a8cdf6"><circle cx="1205.9" cy="895.4" r="1.9"/><circle cx="1213.4" cy="895.4" r="1.9"/><circle cx="1220.8" cy="826.8" r="1.9"/><circle cx="1228.2" cy="818.0" r="1.9"/><circle cx="1235.7" cy="837.0" r="1.9"/><circle cx="1243.2" cy="831.9" r="1.9"/><circle cx="1250.6" cy="788.8" r="1.9"/><circle cx="1258.1" cy="829.4" r="1.9"/><circle cx="1265.5" cy="826.8" r="1.9"/><circle cx="1273.0" cy="839.5" r="1.9"/><circle cx="1280.4" cy="848.4" r="1.9"/><circle cx="1287.9" cy="811.6" r="1.9"/><circle cx="1295.3" cy="895.4" r="1.9"/><circle cx="1302.8" cy="835.7" r="1.9"/><circle cx="1310.2" cy="850.9" r="1.9"/><circle cx="1317.7" cy="858.6" r="1.9"/><circle cx="1325.1" cy="839.5" r="1.9"/><circle cx="1332.6" cy="848.4" r="1.9"/><circle cx="1340.0" cy="856.0" r="1.9"/><circle cx="1347.5" cy="859.8" r="1.9"/><circle cx="1354.9" cy="876.3" r="1.9"/><circle cx="1362.4" cy="895.4" r="1.9"/><circle cx="1369.8" cy="873.8" r="1.9"/><circle cx="1377.2" cy="895.4" r="1.9"/><circle cx="1384.7" cy="895.4" r="1.9"/><circle cx="1392.2" cy="864.9" r="1.9"/><circle cx="1399.6" cy="861.1" r="1.9"/><circle cx="1407.1" cy="895.4" r="1.9"/><circle cx="1414.5" cy="847.1" r="1.9"/><circle cx="1422.0" cy="872.5" r="1.9"/><circle cx="1429.4" cy="856.0" r="1.9"/><circle cx="1436.9" cy="871.3" r="1.9"/><circle cx="1444.3" cy="872.5" r="1.9"/><circle cx="1451.8" cy="872.5" r="1.9"/></g>
<polyline points="1205.9,895.4 1213.4,895.4 1220.8,858.6 1228.2,838.3 1235.7,848.4 1243.2,856.0 1250.6,895.4 1258.1,852.2 1265.5,833.2 1273.0,828.1 1280.4,819.2 1287.9,826.8 1295.3,825.6 1302.8,823.0 1310.2,831.9 1317.7,826.8 1325.1,834.5 1332.6,838.3 1340.0,843.3 1347.5,825.6 1354.9,843.3 1362.4,861.1 1369.8,843.3 1377.2,857.3 1384.7,895.4 1392.2,868.7 1399.6,895.4 1407.1,858.6 1414.5,895.4" fill="none" stroke="#0a3ee6" stroke-width="1.4" stroke-linejoin="round"/>
<g fill="#0a3ee6"><circle cx="1205.9" cy="895.4" r="1.9"/><circle cx="1213.4" cy="895.4" r="1.9"/><circle cx="1220.8" cy="858.6" r="1.9"/><circle cx="1228.2" cy="838.3" r="1.9"/><circle cx="1235.7" cy="848.4" r="1.9"/><circle cx="1243.2" cy="856.0" r="1.9"/><circle cx="1250.6" cy="895.4" r="1.9"/><circle cx="1258.1" cy="852.2" r="1.9"/><circle cx="1265.5" cy="833.2" r="1.9"/><circle cx="1273.0" cy="828.1" r="1.9"/><circle cx="1280.4" cy="819.2" r="1.9"/><circle cx="1287.9" cy="826.8" r="1.9"/><circle cx="1295.3" cy="825.6" r="1.9"/><circle cx="1302.8" cy="823.0" r="1.9"/><circle cx="1310.2" cy="831.9" r="1.9"/><circle cx="1317.7" cy="826.8" r="1.9"/><circle cx="1325.1" cy="834.5" r="1.9"/><circle cx="1332.6" cy="838.3" r="1.9"/><circle cx="1340.0" cy="843.3" r="1.9"/><circle cx="1347.5" cy="825.6" r="1.9"/><circle cx="1354.9" cy="843.3" r="1.9"/><circle cx="1362.4" cy="861.1" r="1.9"/><circle cx="1369.8" cy="843.3" r="1.9"/><circle cx="1377.2" cy="857.3" r="1.9"/><circle cx="1384.7" cy="895.4" r="1.9"/><circle cx="1392.2" cy="868.7" r="1.9"/><circle cx="1399.6" cy="895.4" r="1.9"/><circle cx="1407.1" cy="858.6" r="1.9"/><circle cx="1414.5" cy="895.4" r="1.9"/></g>
<polyline points="1205.9,895.4 1213.4,895.4 1220.8,871.3 1228.2,856.0 1235.7,835.7 1243.2,845.9 1250.6,823.0 1258.1,856.0 1265.5,868.7 1273.0,867.4 1280.4,838.3 1287.9,866.2 1295.3,838.3 1302.8,844.6 1310.2,850.9 1317.7,842.1 1325.1,850.9 1332.6,853.5 1340.0,858.6 1347.5,863.6 1354.9,848.4 1362.4,858.6 1369.8,852.2 1377.2,895.4 1384.7,863.6 1392.2,895.4 1399.6,863.6 1407.1,862.4 1414.5,871.3 1422.0,895.4" fill="none" stroke="#0a6a1e" stroke-width="1.4" stroke-linejoin="round"/>
<g fill="#0a6a1e"><circle cx="1205.9" cy="895.4" r="1.9"/><circle cx="1213.4" cy="895.4" r="1.9"/><circle cx="1220.8" cy="871.3" r="1.9"/><circle cx="1228.2" cy="856.0" r="1.9"/><circle cx="1235.7" cy="835.7" r="1.9"/><circle cx="1243.2" cy="845.9" r="1.9"/><circle cx="1250.6" cy="823.0" r="1.9"/><circle cx="1258.1" cy="856.0" r="1.9"/><circle cx="1265.5" cy="868.7" r="1.9"/><circle cx="1273.0" cy="867.4" r="1.9"/><circle cx="1280.4" cy="838.3" r="1.9"/><circle cx="1287.9" cy="866.2" r="1.9"/><circle cx="1295.3" cy="838.3" r="1.9"/><circle cx="1302.8" cy="844.6" r="1.9"/><circle cx="1310.2" cy="850.9" r="1.9"/><circle cx="1317.7" cy="842.1" r="1.9"/><circle cx="1325.1" cy="850.9" r="1.9"/><circle cx="1332.6" cy="853.5" r="1.9"/><circle cx="1340.0" cy="858.6" r="1.9"/><circle cx="1347.5" cy="863.6" r="1.9"/><circle cx="1354.9" cy="848.4" r="1.9"/><circle cx="1362.4" cy="858.6" r="1.9"/><circle cx="1369.8" cy="852.2" r="1.9"/><circle cx="1377.2" cy="895.4" r="1.9"/><circle cx="1384.7" cy="863.6" r="1.9"/><circle cx="1392.2" cy="895.4" r="1.9"/><circle cx="1399.6" cy="863.6" r="1.9"/><circle cx="1407.1" cy="862.4" r="1.9"/><circle cx="1414.5" cy="871.3" r="1.9"/><circle cx="1422.0" cy="895.4" r="1.9"/></g>
<polyline points="1205.9,895.4 1213.4,895.4 1220.8,895.4 1228.2,864.9 1235.7,859.8 1243.2,863.0 1250.6,818.0 1258.1,820.5 1265.5,830.6 1273.0,826.8 1280.4,835.7 1287.9,830.6 1295.3,840.8 1302.8,833.2 1310.2,844.6 1317.7,848.4 1325.1,840.8 1332.6,834.5 1340.0,826.8 1347.5,845.9 1354.9,839.5 1362.4,859.8 1369.8,868.7 1377.2,856.0 1384.7,895.4 1392.2,859.8 1399.6,871.3 1407.1,895.4" fill="none" stroke="#ff2410" stroke-width="1.4" stroke-linejoin="round"/>
<g fill="#ff2410"><circle cx="1205.9" cy="895.4" r="1.9"/><circle cx="1213.4" cy="895.4" r="1.9"/><circle cx="1220.8" cy="895.4" r="1.9"/><circle cx="1228.2" cy="864.9" r="1.9"/><circle cx="1235.7" cy="859.8" r="1.9"/><circle cx="1243.2" cy="863.0" r="1.9"/><circle cx="1250.6" cy="818.0" r="1.9"/><circle cx="1258.1" cy="820.5" r="1.9"/><circle cx="1265.5" cy="830.6" r="1.9"/><circle cx="1273.0" cy="826.8" r="1.9"/><circle cx="1280.4" cy="835.7" r="1.9"/><circle cx="1287.9" cy="830.6" r="1.9"/><circle cx="1295.3" cy="840.8" r="1.9"/><circle cx="1302.8" cy="833.2" r="1.9"/><circle cx="1310.2" cy="844.6" r="1.9"/><circle cx="1317.7" cy="848.4" r="1.9"/><circle cx="1325.1" cy="840.8" r="1.9"/><circle cx="1332.6" cy="834.5" r="1.9"/><circle cx="1340.0" cy="826.8" r="1.9"/><circle cx="1347.5" cy="845.9" r="1.9"/><circle cx="1354.9" cy="839.5" r="1.9"/><circle cx="1362.4" cy="859.8" r="1.9"/><circle cx="1369.8" cy="868.7" r="1.9"/><circle cx="1377.2" cy="856.0" r="1.9"/><circle cx="1384.7" cy="895.4" r="1.9"/><circle cx="1392.2" cy="859.8" r="1.9"/><circle cx="1399.6" cy="871.3" r="1.9"/><circle cx="1407.1" cy="895.4" r="1.9"/></g>
<polyline points="1205.9,895.4 1213.4,895.4 1220.8,895.4 1228.2,895.4 1235.7,850.9 1243.2,859.8 1250.6,858.6 1258.1,839.5 1265.5,818.0 1273.0,834.5 1280.4,844.6 1287.9,839.5 1295.3,838.3 1302.8,848.4 1310.2,842.1 1317.7,852.2 1325.1,844.6 1332.6,895.4 1340.0,864.9 1347.5,850.9 1354.9,852.2 1362.4,871.3 1369.8,868.7 1377.2,876.3 1384.7,895.4 1392.2,868.7 1399.6,895.4 1407.1,864.9 1414.5,895.4 1422.0,871.3 1429.4,895.4 1436.9,895.4 1444.3,871.3 1451.8,895.4" fill="none" stroke="#f5c498" stroke-width="1.4" stroke-linejoin="round"/>
<g fill="#f5c498"><circle cx="1205.9" cy="895.4" r="1.9"/><circle cx="1213.4" cy="895.4" r="1.9"/><circle cx="1220.8" cy="895.4" r="1.9"/><circle cx="1228.2" cy="895.4" r="1.9"/><circle cx="1235.7" cy="850.9" r="1.9"/><circle cx="1243.2" cy="859.8" r="1.9"/><circle cx="1250.6" cy="858.6" r="1.9"/><circle cx="1258.1" cy="839.5" r="1.9"/><circle cx="1265.5" cy="818.0" r="1.9"/><circle cx="1273.0" cy="834.5" r="1.9"/><circle cx="1280.4" cy="844.6" r="1.9"/><circle cx="1287.9" cy="839.5" r="1.9"/><circle cx="1295.3" cy="838.3" r="1.9"/><circle cx="1302.8" cy="848.4" r="1.9"/><circle cx="1310.2" cy="842.1" r="1.9"/><circle cx="1317.7" cy="852.2" r="1.9"/><circle cx="1325.1" cy="844.6" r="1.9"/><circle cx="1332.6" cy="895.4" r="1.9"/><circle cx="1340.0" cy="864.9" r="1.9"/><circle cx="1347.5" cy="850.9" r="1.9"/><circle cx="1354.9" cy="852.2" r="1.9"/><circle cx="1362.4" cy="871.3" r="1.9"/><circle cx="1369.8" cy="868.7" r="1.9"/><circle cx="1377.2" cy="876.3" r="1.9"/><circle cx="1384.7" cy="895.4" r="1.9"/><circle cx="1392.2" cy="868.7" r="1.9"/><circle cx="1399.6" cy="895.4" r="1.9"/><circle cx="1407.1" cy="864.9" r="1.9"/><circle cx="1414.5" cy="895.4" r="1.9"/><circle cx="1422.0" cy="871.3" r="1.9"/><circle cx="1429.4" cy="895.4" r="1.9"/><circle cx="1436.9" cy="895.4" r="1.9"/><circle cx="1444.3" cy="871.3" r="1.9"/><circle cx="1451.8" cy="895.4" r="1.9"/></g>
<polyline points="1205.9,895.4 1213.4,895.4 1220.8,895.4 1228.2,871.3 1235.7,872.5 1243.2,843.3 1250.6,833.2 1258.1,844.6 1265.5,848.4 1273.0,840.8 1280.4,853.5 1287.9,843.3 1295.3,850.9 1302.8,866.8 1310.2,856.0 1317.7,850.9 1325.1,858.6 1332.6,862.4 1340.0,840.8 1347.5,838.3 1354.9,856.0 1362.4,862.4 1369.8,852.2 1377.2,864.9 1384.7,867.4 1392.2,858.6 1399.6,895.4 1407.1,866.2 1414.5,895.4" fill="none" stroke="#cacbff" stroke-width="1.4" stroke-linejoin="round"/>
<g fill="#cacbff"><circle cx="1205.9" cy="895.4" r="1.9"/><circle cx="1213.4" cy="895.4" r="1.9"/><circle cx="1220.8" cy="895.4" r="1.9"/><circle cx="1228.2" cy="871.3" r="1.9"/><circle cx="1235.7" cy="872.5" r="1.9"/><circle cx="1243.2" cy="843.3" r="1.9"/><circle cx="1250.6" cy="833.2" r="1.9"/><circle cx="1258.1" cy="844.6" r="1.9"/><circle cx="1265.5" cy="848.4" r="1.9"/><circle cx="1273.0" cy="840.8" r="1.9"/><circle cx="1280.4" cy="853.5" r="1.9"/><circle cx="1287.9" cy="843.3" r="1.9"/><circle cx="1295.3" cy="850.9" r="1.9"/><circle cx="1302.8" cy="866.8" r="1.9"/><circle cx="1310.2" cy="856.0" r="1.9"/><circle cx="1317.7" cy="850.9" r="1.9"/><circle cx="1325.1" cy="858.6" r="1.9"/><circle cx="1332.6" cy="862.4" r="1.9"/><circle cx="1340.0" cy="840.8" r="1.9"/><circle cx="1347.5" cy="838.3" r="1.9"/><circle cx="1354.9" cy="856.0" r="1.9"/><circle cx="1362.4" cy="862.4" r="1.9"/><circle cx="1369.8" cy="852.2" r="1.9"/><circle cx="1377.2" cy="864.9" r="1.9"/><circle cx="1384.7" cy="867.4" r="1.9"/><circle cx="1392.2" cy="858.6" r="1.9"/><circle cx="1399.6" cy="895.4" r="1.9"/><circle cx="1407.1" cy="866.2" r="1.9"/><circle cx="1414.5" cy="895.4" r="1.9"/></g>
<polyline points="1205.9,895.4 1213.4,895.4 1220.8,830.6 1228.2,840.8 1235.7,814.1 1243.2,822.4 1250.6,816.7 1258.1,838.3 1265.5,830.6 1273.0,839.5 1280.4,847.1 1287.9,858.6 1295.3,844.6 1302.8,853.5 1310.2,845.9 1317.7,862.4 1325.1,857.3 1332.6,850.9 1340.0,858.6 1347.5,863.6 1354.9,871.3 1362.4,834.5 1369.8,866.2 1377.2,895.4 1384.7,868.7 1392.2,895.4 1399.6,859.8 1407.1,895.4 1414.5,867.4 1422.0,895.4 1429.4,875.1 1436.9,872.5 1444.3,895.4 1451.8,895.4" fill="none" stroke="#780e6e" stroke-width="1.4" stroke-linejoin="round"/>
<g fill="#780e6e"><circle cx="1205.9" cy="895.4" r="1.9"/><circle cx="1213.4" cy="895.4" r="1.9"/><circle cx="1220.8" cy="830.6" r="1.9"/><circle cx="1228.2" cy="840.8" r="1.9"/><circle cx="1235.7" cy="814.1" r="1.9"/><circle cx="1243.2" cy="822.4" r="1.9"/><circle cx="1250.6" cy="816.7" r="1.9"/><circle cx="1258.1" cy="838.3" r="1.9"/><circle cx="1265.5" cy="830.6" r="1.9"/><circle cx="1273.0" cy="839.5" r="1.9"/><circle cx="1280.4" cy="847.1" r="1.9"/><circle cx="1287.9" cy="858.6" r="1.9"/><circle cx="1295.3" cy="844.6" r="1.9"/><circle cx="1302.8" cy="853.5" r="1.9"/><circle cx="1310.2" cy="845.9" r="1.9"/><circle cx="1317.7" cy="862.4" r="1.9"/><circle cx="1325.1" cy="857.3" r="1.9"/><circle cx="1332.6" cy="850.9" r="1.9"/><circle cx="1340.0" cy="858.6" r="1.9"/><circle cx="1347.5" cy="863.6" r="1.9"/><circle cx="1354.9" cy="871.3" r="1.9"/><circle cx="1362.4" cy="834.5" r="1.9"/><circle cx="1369.8" cy="866.2" r="1.9"/><circle cx="1377.2" cy="895.4" r="1.9"/><circle cx="1384.7" cy="868.7" r="1.9"/><circle cx="1392.2" cy="895.4" r="1.9"/><circle cx="1399.6" cy="859.8" r="1.9"/><circle cx="1407.1" cy="895.4" r="1.9"/><circle cx="1414.5" cy="867.4" r="1.9"/><circle cx="1422.0" cy="895.4" r="1.9"/><circle cx="1429.4" cy="875.1" r="1.9"/><circle cx="1436.9" cy="872.5" r="1.9"/><circle cx="1444.3" cy="895.4" r="1.9"/><circle cx="1451.8" cy="895.4" r="1.9"/></g>
<polyline points="1205.9,895.4 1213.4,895.4 1220.8,845.9 1228.2,848.4 1235.7,830.6 1243.2,811.6 1250.6,821.8 1258.1,815.4 1265.5,823.0 1273.0,826.8 1280.4,838.3 1287.9,848.4 1295.3,833.2 1302.8,850.9 1310.2,859.8 1317.7,868.7 1325.1,854.8 1332.6,845.9 1340.0,850.9 1347.5,856.0 1354.9,842.1 1362.4,849.7 1369.8,845.9 1377.2,859.8 1384.7,864.9 1392.2,850.9 1399.6,857.3 1407.1,863.0 1414.5,895.4 1422.0,870.0 1429.4,871.3 1436.9,847.1 1444.3,867.4 1451.8,895.4 1459.2,895.4" fill="none" stroke="#000000" stroke-width="1.4" stroke-linejoin="round"/>
<g fill="#000000"><circle cx="1205.9" cy="895.4" r="1.9"/><circle cx="1213.4" cy="895.4" r="1.9"/><circle cx="1220.8" cy="845.9" r="1.9"/><circle cx="1228.2" cy="848.4" r="1.9"/><circle cx="1235.7" cy="830.6" r="1.9"/><circle cx="1243.2" cy="811.6" r="1.9"/><circle cx="1250.6" cy="821.8" r="1.9"/><circle cx="1258.1" cy="815.4" r="1.9"/><circle cx="1265.5" cy="823.0" r="1.9"/><circle cx="1273.0" cy="826.8" r="1.9"/><circle cx="1280.4" cy="838.3" r="1.9"/><circle cx="1287.9" cy="848.4" r="1.9"/><circle cx="1295.3" cy="833.2" r="1.9"/><circle cx="1302.8" cy="850.9" r="1.9"/><circle cx="1310.2" cy="859.8" r="1.9"/><circle cx="1317.7" cy="868.7" r="1.9"/><circle cx="1325.1" cy="854.8" r="1.9"/><circle cx="1332.6" cy="845.9" r="1.9"/><circle cx="1340.0" cy="850.9" r="1.9"/><circle cx="1347.5" cy="856.0" r="1.9"/><circle cx="1354.9" cy="842.1" r="1.9"/><circle cx="1362.4" cy="849.7" r="1.9"/><circle cx="1369.8" cy="845.9" r="1.9"/><circle cx="1377.2" cy="859.8" r="1.9"/><circle cx="1384.7" cy="864.9" r="1.9"/><circle cx="1392.2" cy="850.9" r="1.9"/><circle cx="1399.6" cy="857.3" r="1.9"/><circle cx="1407.1" cy="863.0" r="1.9"/><circle cx="1414.5" cy="895.4" r="1.9"/><circle cx="1422.0" cy="870.0" r="1.9"/><circle cx="1429.4" cy="871.3" r="1.9"/><circle cx="1436.9" cy="847.1" r="1.9"/><circle cx="1444.3" cy="867.4" r="1.9"/><circle cx="1451.8" cy="895.4" r="1.9"/><circle cx="1459.2" cy="895.4" r="1.9"/></g>
<polyline points="1205.9,895.4 1213.4,895.4 1220.8,868.7 1228.2,845.9 1235.7,833.2 1243.2,825.6 1250.6,820.5 1258.1,828.1 1265.5,835.7 1273.0,820.5 1280.4,830.6 1287.9,821.8 1295.3,829.4 1302.8,825.6 1310.2,828.1 1317.7,820.5 1325.1,835.7 1332.6,829.4 1340.0,825.6 1347.5,831.9 1354.9,833.2 1362.4,852.2 1369.8,826.8 1377.2,895.4 1384.7,866.2 1392.2,895.4 1399.6,861.1 1407.1,850.9 1414.5,895.4" fill="none" stroke="#ff8c0a" stroke-width="1.4" stroke-linejoin="round"/>
<g fill="#ff8c0a"><circle cx="1205.9" cy="895.4" r="1.9"/><circle cx="1213.4" cy="895.4" r="1.9"/><circle cx="1220.8" cy="868.7" r="1.9"/><circle cx="1228.2" cy="845.9" r="1.9"/><circle cx="1235.7" cy="833.2" r="1.9"/><circle cx="1243.2" cy="825.6" r="1.9"/><circle cx="1250.6" cy="820.5" r="1.9"/><circle cx="1258.1" cy="828.1" r="1.9"/><circle cx="1265.5" cy="835.7" r="1.9"/><circle cx="1273.0" cy="820.5" r="1.9"/><circle cx="1280.4" cy="830.6" r="1.9"/><circle cx="1287.9" cy="821.8" r="1.9"/><circle cx="1295.3" cy="829.4" r="1.9"/><circle cx="1302.8" cy="825.6" r="1.9"/><circle cx="1310.2" cy="828.1" r="1.9"/><circle cx="1317.7" cy="820.5" r="1.9"/><circle cx="1325.1" cy="835.7" r="1.9"/><circle cx="1332.6" cy="829.4" r="1.9"/><circle cx="1340.0" cy="825.6" r="1.9"/><circle cx="1347.5" cy="831.9" r="1.9"/><circle cx="1354.9" cy="833.2" r="1.9"/><circle cx="1362.4" cy="852.2" r="1.9"/><circle cx="1369.8" cy="826.8" r="1.9"/><circle cx="1377.2" cy="895.4" r="1.9"/><circle cx="1384.7" cy="866.2" r="1.9"/><circle cx="1392.2" cy="895.4" r="1.9"/><circle cx="1399.6" cy="861.1" r="1.9"/><circle cx="1407.1" cy="850.9" r="1.9"/><circle cx="1414.5" cy="895.4" r="1.9"/></g>
<polyline points="1205.9,895.4 1213.4,895.4 1220.8,876.3 1228.2,847.1 1235.7,828.1 1243.2,825.6 1250.6,818.0 1258.1,824.3 1265.5,829.4 1273.0,834.5 1280.4,842.1 1287.9,826.8 1295.3,844.6 1302.8,837.0 1310.2,845.9 1317.7,842.1 1325.1,847.1 1332.6,840.8 1340.0,837.0 1347.5,822.4 1354.9,834.5 1362.4,847.1 1369.8,822.4 1377.2,854.8 1384.7,862.4 1392.2,868.7 1399.6,895.4" fill="none" stroke="#00aa1e" stroke-width="1.4" stroke-linejoin="round"/>
<g fill="#00aa1e"><circle cx="1205.9" cy="895.4" r="1.9"/><circle cx="1213.4" cy="895.4" r="1.9"/><circle cx="1220.8" cy="876.3" r="1.9"/><circle cx="1228.2" cy="847.1" r="1.9"/><circle cx="1235.7" cy="828.1" r="1.9"/><circle cx="1243.2" cy="825.6" r="1.9"/><circle cx="1250.6" cy="818.0" r="1.9"/><circle cx="1258.1" cy="824.3" r="1.9"/><circle cx="1265.5" cy="829.4" r="1.9"/><circle cx="1273.0" cy="834.5" r="1.9"/><circle cx="1280.4" cy="842.1" r="1.9"/><circle cx="1287.9" cy="826.8" r="1.9"/><circle cx="1295.3" cy="844.6" r="1.9"/><circle cx="1302.8" cy="837.0" r="1.9"/><circle cx="1310.2" cy="845.9" r="1.9"/><circle cx="1317.7" cy="842.1" r="1.9"/><circle cx="1325.1" cy="847.1" r="1.9"/><circle cx="1332.6" cy="840.8" r="1.9"/><circle cx="1340.0" cy="837.0" r="1.9"/><circle cx="1347.5" cy="822.4" r="1.9"/><circle cx="1354.9" cy="834.5" r="1.9"/><circle cx="1362.4" cy="847.1" r="1.9"/><circle cx="1369.8" cy="822.4" r="1.9"/><circle cx="1377.2" cy="854.8" r="1.9"/><circle cx="1384.7" cy="862.4" r="1.9"/><circle cx="1392.2" cy="868.7" r="1.9"/><circle cx="1399.6" cy="895.4" r="1.9"/></g>
<polyline points="1205.9,895.4 1213.4,895.4 1220.8,833.2 1228.2,843.3 1235.7,834.5 1243.2,826.8 1250.6,825.6 1258.1,821.8 1265.5,828.1 1273.0,830.6 1280.4,825.6 1287.9,833.2 1295.3,819.2 1302.8,820.5 1310.2,824.3 1317.7,834.5 1325.1,838.3 1332.6,834.5 1340.0,845.9 1347.5,843.3 1354.9,856.0 1362.4,861.1 1369.8,847.1 1377.2,843.3 1384.7,857.3 1392.2,895.4 1399.6,871.3 1407.1,895.4 1414.5,854.8 1422.0,868.7 1429.4,863.6 1436.9,868.7 1444.3,871.3 1451.8,867.4 1459.2,867.4 1466.7,874.4 1474.1,895.4 1481.6,895.4" fill="none" stroke="#001c96" stroke-width="1.4" stroke-linejoin="round"/>
<g fill="#001c96"><circle cx="1205.9" cy="895.4" r="1.9"/><circle cx="1213.4" cy="895.4" r="1.9"/><circle cx="1220.8" cy="833.2" r="1.9"/><circle cx="1228.2" cy="843.3" r="1.9"/><circle cx="1235.7" cy="834.5" r="1.9"/><circle cx="1243.2" cy="826.8" r="1.9"/><circle cx="1250.6" cy="825.6" r="1.9"/><circle cx="1258.1" cy="821.8" r="1.9"/><circle cx="1265.5" cy="828.1" r="1.9"/><circle cx="1273.0" cy="830.6" r="1.9"/><circle cx="1280.4" cy="825.6" r="1.9"/><circle cx="1287.9" cy="833.2" r="1.9"/><circle cx="1295.3" cy="819.2" r="1.9"/><circle cx="1302.8" cy="820.5" r="1.9"/><circle cx="1310.2" cy="824.3" r="1.9"/><circle cx="1317.7" cy="834.5" r="1.9"/><circle cx="1325.1" cy="838.3" r="1.9"/><circle cx="1332.6" cy="834.5" r="1.9"/><circle cx="1340.0" cy="845.9" r="1.9"/><circle cx="1347.5" cy="843.3" r="1.9"/><circle cx="1354.9" cy="856.0" r="1.9"/><circle cx="1362.4" cy="861.1" r="1.9"/><circle cx="1369.8" cy="847.1" r="1.9"/><circle cx="1377.2" cy="843.3" r="1.9"/><circle cx="1384.7" cy="857.3" r="1.9"/><circle cx="1392.2" cy="895.4" r="1.9"/><circle cx="1399.6" cy="871.3" r="1.9"/><circle cx="1407.1" cy="895.4" r="1.9"/><circle cx="1414.5" cy="854.8" r="1.9"/><circle cx="1422.0" cy="868.7" r="1.9"/><circle cx="1429.4" cy="863.6" r="1.9"/><circle cx="1436.9" cy="868.7" r="1.9"/><circle cx="1444.3" cy="871.3" r="1.9"/><circle cx="1451.8" cy="867.4" r="1.9"/><circle cx="1459.2" cy="867.4" r="1.9"/><circle cx="1466.7" cy="874.4" r="1.9"/><circle cx="1474.1" cy="895.4" r="1.9"/><circle cx="1481.6" cy="895.4" r="1.9"/></g>
<polyline points="1205.9,895.4 1213.4,895.4 1220.8,866.2 1228.2,840.8 1235.7,830.6 1243.2,825.6 1250.6,834.5 1258.1,839.5 1265.5,831.9 1273.0,843.3 1280.4,826.8 1287.9,821.8 1295.3,833.2 1302.8,839.5 1310.2,835.7 1317.7,843.3 1325.1,826.8 1332.6,822.4 1340.0,835.7 1347.5,845.9 1354.9,852.2 1362.4,864.9 1369.8,859.8 1377.2,868.7 1384.7,856.0 1392.2,843.3 1399.6,858.6 1407.1,895.4 1414.5,875.1 1422.0,866.2 1429.4,895.4 1436.9,856.0 1444.3,895.4 1451.8,895.4 1459.2,864.9 1466.7,895.4" fill="none" stroke="#b43cf2" stroke-width="1.4" stroke-linejoin="round"/>
<g fill="#b43cf2"><circle cx="1205.9" cy="895.4" r="1.9"/><circle cx="1213.4" cy="895.4" r="1.9"/><circle cx="1220.8" cy="866.2" r="1.9"/><circle cx="1228.2" cy="840.8" r="1.9"/><circle cx="1235.7" cy="830.6" r="1.9"/><circle cx="1243.2" cy="825.6" r="1.9"/><circle cx="1250.6" cy="834.5" r="1.9"/><circle cx="1258.1" cy="839.5" r="1.9"/><circle cx="1265.5" cy="831.9" r="1.9"/><circle cx="1273.0" cy="843.3" r="1.9"/><circle cx="1280.4" cy="826.8" r="1.9"/><circle cx="1287.9" cy="821.8" r="1.9"/><circle cx="1295.3" cy="833.2" r="1.9"/><circle cx="1302.8" cy="839.5" r="1.9"/><circle cx="1310.2" cy="835.7" r="1.9"/><circle cx="1317.7" cy="843.3" r="1.9"/><circle cx="1325.1" cy="826.8" r="1.9"/><circle cx="1332.6" cy="822.4" r="1.9"/><circle cx="1340.0" cy="835.7" r="1.9"/><circle cx="1347.5" cy="845.9" r="1.9"/><circle cx="1354.9" cy="852.2" r="1.9"/><circle cx="1362.4" cy="864.9" r="1.9"/><circle cx="1369.8" cy="859.8" r="1.9"/><circle cx="1377.2" cy="868.7" r="1.9"/><circle cx="1384.7" cy="856.0" r="1.9"/><circle cx="1392.2" cy="843.3" r="1.9"/><circle cx="1399.6" cy="858.6" r="1.9"/><circle cx="1407.1" cy="895.4" r="1.9"/><circle cx="1414.5" cy="875.1" r="1.9"/><circle cx="1422.0" cy="866.2" r="1.9"/><circle cx="1429.4" cy="895.4" r="1.9"/><circle cx="1436.9" cy="856.0" r="1.9"/><circle cx="1444.3" cy="895.4" r="1.9"/><circle cx="1451.8" cy="895.4" r="1.9"/><circle cx="1459.2" cy="864.9" r="1.9"/><circle cx="1466.7" cy="895.4" r="1.9"/></g>
<polyline points="1205.9,895.4 1213.4,895.4 1220.8,863.0 1228.2,895.4 1235.7,856.0 1243.2,831.9 1250.6,844.6 1258.1,850.9 1265.5,836.4 1273.0,848.4 1280.4,856.7 1287.9,830.6 1295.3,858.6 1302.8,837.0 1310.2,843.3 1317.7,854.8 1325.1,840.8 1332.6,895.4 1340.0,895.4 1347.5,848.4 1354.9,895.4 1362.4,836.4 1369.8,895.4 1377.2,895.4 1384.7,850.3 1392.2,895.4 1399.6,842.1 1407.1,895.4 1414.5,876.3 1422.0,895.4 1429.4,857.3 1436.9,895.4 1444.3,868.7" fill="none" stroke="#808080" stroke-width="1.4" stroke-linejoin="round"/>
<g fill="#808080"><circle cx="1205.9" cy="895.4" r="1.9"/><circle cx="1213.4" cy="895.4" r="1.9"/><circle cx="1220.8" cy="863.0" r="1.9"/><circle cx="1228.2" cy="895.4" r="1.9"/><circle cx="1235.7" cy="856.0" r="1.9"/><circle cx="1243.2" cy="831.9" r="1.9"/><circle cx="1250.6" cy="844.6" r="1.9"/><circle cx="1258.1" cy="850.9" r="1.9"/><circle cx="1265.5" cy="836.4" r="1.9"/><circle cx="1273.0" cy="848.4" r="1.9"/><circle cx="1280.4" cy="856.7" r="1.9"/><circle cx="1287.9" cy="830.6" r="1.9"/><circle cx="1295.3" cy="858.6" r="1.9"/><circle cx="1302.8" cy="837.0" r="1.9"/><circle cx="1310.2" cy="843.3" r="1.9"/><circle cx="1317.7" cy="854.8" r="1.9"/><circle cx="1325.1" cy="840.8" r="1.9"/><circle cx="1332.6" cy="895.4" r="1.9"/><circle cx="1340.0" cy="895.4" r="1.9"/><circle cx="1347.5" cy="848.4" r="1.9"/><circle cx="1354.9" cy="895.4" r="1.9"/><circle cx="1362.4" cy="836.4" r="1.9"/><circle cx="1369.8" cy="895.4" r="1.9"/><circle cx="1377.2" cy="895.4" r="1.9"/><circle cx="1384.7" cy="850.3" r="1.9"/><circle cx="1392.2" cy="895.4" r="1.9"/><circle cx="1399.6" cy="842.1" r="1.9"/><circle cx="1407.1" cy="895.4" r="1.9"/><circle cx="1414.5" cy="876.3" r="1.9"/><circle cx="1422.0" cy="895.4" r="1.9"/><circle cx="1429.4" cy="857.3" r="1.9"/><circle cx="1436.9" cy="895.4" r="1.9"/><circle cx="1444.3" cy="868.7" r="1.9"/></g>
<polyline points="1205.9,895.4 1213.4,895.4 1220.8,895.4 1228.2,873.8 1235.7,824.3 1243.2,834.5 1250.6,812.9 1258.1,815.4 1265.5,802.7 1273.0,811.6 1280.4,837.0 1287.9,845.9 1295.3,835.7 1302.8,861.1 1310.2,843.3 1317.7,847.1 1325.1,840.8 1332.6,848.4 1340.0,845.9 1347.5,844.6 1354.9,859.8 1362.4,856.0 1369.8,863.6 1377.2,854.8 1384.7,836.4 1392.2,840.8 1399.6,850.3 1407.1,863.0 1414.5,864.9 1422.0,872.5 1429.4,872.5 1436.9,872.5 1444.3,872.5 1451.8,872.5 1459.2,872.5 1466.7,872.5" fill="none" stroke="#00e414" stroke-width="1.4" stroke-linejoin="round"/>
<g fill="#00e414"><circle cx="1205.9" cy="895.4" r="1.9"/><circle cx="1213.4" cy="895.4" r="1.9"/><circle cx="1220.8" cy="895.4" r="1.9"/><circle cx="1228.2" cy="873.8" r="1.9"/><circle cx="1235.7" cy="824.3" r="1.9"/><circle cx="1243.2" cy="834.5" r="1.9"/><circle cx="1250.6" cy="812.9" r="1.9"/><circle cx="1258.1" cy="815.4" r="1.9"/><circle cx="1265.5" cy="802.7" r="1.9"/><circle cx="1273.0" cy="811.6" r="1.9"/><circle cx="1280.4" cy="837.0" r="1.9"/><circle cx="1287.9" cy="845.9" r="1.9"/><circle cx="1295.3" cy="835.7" r="1.9"/><circle cx="1302.8" cy="861.1" r="1.9"/><circle cx="1310.2" cy="843.3" r="1.9"/><circle cx="1317.7" cy="847.1" r="1.9"/><circle cx="1325.1" cy="840.8" r="1.9"/><circle cx="1332.6" cy="848.4" r="1.9"/><circle cx="1340.0" cy="845.9" r="1.9"/><circle cx="1347.5" cy="844.6" r="1.9"/><circle cx="1354.9" cy="859.8" r="1.9"/><circle cx="1362.4" cy="856.0" r="1.9"/><circle cx="1369.8" cy="863.6" r="1.9"/><circle cx="1377.2" cy="854.8" r="1.9"/><circle cx="1384.7" cy="836.4" r="1.9"/><circle cx="1392.2" cy="840.8" r="1.9"/><circle cx="1399.6" cy="850.3" r="1.9"/><circle cx="1407.1" cy="863.0" r="1.9"/><circle cx="1414.5" cy="864.9" r="1.9"/><circle cx="1422.0" cy="872.5" r="1.9"/><circle cx="1429.4" cy="872.5" r="1.9"/><circle cx="1436.9" cy="872.5" r="1.9"/><circle cx="1444.3" cy="872.5" r="1.9"/><circle cx="1451.8" cy="872.5" r="1.9"/><circle cx="1459.2" cy="872.5" r="1.9"/><circle cx="1466.7" cy="872.5" r="1.9"/></g>
<polyline points="1205.9,895.4 1213.4,866.2 1220.8,821.8 1228.2,844.6 1235.7,842.1 1243.2,818.0 1250.6,828.7 1258.1,854.8 1265.5,843.3 1273.0,859.8 1280.4,802.1 1287.9,839.5 1295.3,847.1 1302.8,824.3 1310.2,844.6 1317.7,839.5 1325.1,850.3 1332.6,845.9 1340.0,847.1 1347.5,895.4 1354.9,867.4 1362.4,854.8 1369.8,862.4 1377.2,860.5 1384.7,856.0 1392.2,863.6 1399.6,895.4 1407.1,895.4 1414.5,895.4 1422.0,895.4" fill="none" stroke="#fff200" stroke-width="1.4" stroke-linejoin="round"/>
<g fill="#fff200"><circle cx="1205.9" cy="895.4" r="1.9"/><circle cx="1213.4" cy="866.2" r="1.9"/><circle cx="1220.8" cy="821.8" r="1.9"/><circle cx="1228.2" cy="844.6" r="1.9"/><circle cx="1235.7" cy="842.1" r="1.9"/><circle cx="1243.2" cy="818.0" r="1.9"/><circle cx="1250.6" cy="828.7" r="1.9"/><circle cx="1258.1" cy="854.8" r="1.9"/><circle cx="1265.5" cy="843.3" r="1.9"/><circle cx="1273.0" cy="859.8" r="1.9"/><circle cx="1280.4" cy="802.1" r="1.9"/><circle cx="1287.9" cy="839.5" r="1.9"/><circle cx="1295.3" cy="847.1" r="1.9"/><circle cx="1302.8" cy="824.3" r="1.9"/><circle cx="1310.2" cy="844.6" r="1.9"/><circle cx="1317.7" cy="839.5" r="1.9"/><circle cx="1325.1" cy="850.3" r="1.9"/><circle cx="1332.6" cy="845.9" r="1.9"/><circle cx="1340.0" cy="847.1" r="1.9"/><circle cx="1347.5" cy="895.4" r="1.9"/><circle cx="1354.9" cy="867.4" r="1.9"/><circle cx="1362.4" cy="854.8" r="1.9"/><circle cx="1369.8" cy="862.4" r="1.9"/><circle cx="1377.2" cy="860.5" r="1.9"/><circle cx="1384.7" cy="856.0" r="1.9"/><circle cx="1392.2" cy="863.6" r="1.9"/><circle cx="1399.6" cy="895.4" r="1.9"/><circle cx="1407.1" cy="895.4" r="1.9"/><circle cx="1414.5" cy="895.4" r="1.9"/><circle cx="1422.0" cy="895.4" r="1.9"/></g>
<polyline points="1205.9,895.4 1213.4,895.4 1220.8,852.2 1228.2,853.5 1235.7,825.6 1243.2,824.3 1250.6,804.0 1258.1,808.4 1265.5,810.3 1273.0,820.5 1280.4,826.8 1287.9,837.0 1295.3,811.6 1302.8,820.5 1310.2,828.1 1317.7,842.1 1325.1,852.2 1332.6,843.3 1340.0,856.7 1347.5,895.4 1354.9,895.4 1362.4,895.4 1369.8,862.4 1377.2,852.2 1384.7,824.3 1392.2,895.4 1399.6,845.9 1407.1,895.4 1414.5,895.4" fill="none" stroke="#c87404" stroke-width="3.0" stroke-linejoin="round"/>
<rect x="1200.1" y="723.05" width="2" height="192.35000000000002" fill="#000"/>
<rect x="1192.6" y="913.4" width="293.4000000000001" height="2" fill="#000"/>
<rect x="1192.6" y="723.0" width="8" height="2" fill="#000"/>
<text x="1190" y="729.2" font-size="14.4" text-anchor="end" fill="#000">15</text>
<rect x="1192.6" y="786.5" width="8" height="2" fill="#000"/>
<text x="1190" y="792.7" font-size="14.4" text-anchor="end" fill="#000">10</text>
<rect x="1192.6" y="849.9" width="8" height="2" fill="#000"/>
<text x="1190" y="856.1" font-size="14.4" text-anchor="end" fill="#000">5</text>
<rect x="1192.6" y="894.4" width="8" height="2" fill="#000"/>
<rect x="1192.6" y="913.4" width="8" height="2" fill="#000"/>
<text x="1190" y="919.6" font-size="14.4" text-anchor="end" fill="#000">0</text>
<rect x="1204.9" y="914.4" width="2" height="7.5" fill="#000"/>
<rect x="1219.8" y="914.4" width="2" height="7.5" fill="#000"/>
<rect x="1234.7" y="914.4" width="2" height="7.5" fill="#000"/>
<rect x="1249.6" y="914.4" width="2" height="7.5" fill="#000"/>
<rect x="1264.5" y="914.4" width="2" height="7.5" fill="#000"/>
<rect x="1279.4" y="914.4" width="2" height="7.5" fill="#000"/>
<rect x="1294.3" y="914.4" width="2" height="7.5" fill="#000"/>
<rect x="1309.2" y="914.4" width="2" height="7.5" fill="#000"/>
<rect x="1324.1" y="914.4" width="2" height="7.5" fill="#000"/>
<rect x="1339.0" y="914.4" width="2" height="7.5" fill="#000"/>
<rect x="1353.9" y="914.4" width="2" height="7.5" fill="#000"/>
<rect x="1368.8" y="914.4" width="2" height="7.5" fill="#000"/>
<rect x="1383.7" y="914.4" width="2" height="7.5" fill="#000"/>
<rect x="1398.6" y="914.4" width="2" height="7.5" fill="#000"/>
<rect x="1413.5" y="914.4" width="2" height="7.5" fill="#000"/>
<rect x="1428.4" y="914.4" width="2" height="7.5" fill="#000"/>
<rect x="1443.3" y="914.4" width="2" height="7.5" fill="#000"/>
<rect x="1458.2" y="914.4" width="2" height="7.5" fill="#000"/>
<rect x="1473.1" y="914.4" width="2" height="7.5" fill="#000"/>
<text x="989.3" y="950.6" font-size="23.5" text-anchor="middle" fill="#000" textLength="216" lengthAdjust="spacingAndGlyphs">Day post-inoculation</text>
<text x="989.3" y="1519" font-size="23.5" text-anchor="middle" fill="#000" textLength="216" lengthAdjust="spacingAndGlyphs">Day post-inoculation</text>
<text x="1350.3" y="950.6" font-size="23.5" text-anchor="middle" fill="#000" textLength="216" lengthAdjust="spacingAndGlyphs">Day post-inoculation</text>
<text x="1350.3" y="1519" font-size="23.5" text-anchor="middle" fill="#000" textLength="216" lengthAdjust="spacingAndGlyphs">Day post-inoculation</text>
<text transform="translate(811.4 909) rotate(-90)" font-size="24.6">Log<tspan font-size="14.3" dy="7.2">10</tspan><tspan dy="-7.2"> copies/ml</tspan></text>
<text transform="translate(810.6 1357.5) rotate(-90)" font-size="24.6">Log<tspan font-size="14.3" dy="7.2">10</tspan><tspan dy="-7.2"> copies/ml</tspan></text>
<line x1="857.9" y1="1187.0" x2="1129.6" y2="1187.0" stroke="#000" stroke-width="1.4" stroke-dasharray="1.4 3.8" stroke-linecap="round"/>
<line x1="857.9" y1="1187.0" x2="878.8" y2="1187.0" stroke="#12c412" stroke-width="1.3"/>
<polyline points="857.9,1187.0 868.4,1116.3 878.8,1187.0" fill="none" stroke="#b43cf2" stroke-width="1.3" stroke-linejoin="round"/>
<g fill="#b43cf2"><circle cx="857.9" cy="1187.0" r="2.2"/><circle cx="868.4" cy="1116.3" r="2.2"/><circle cx="878.8" cy="1187.0" r="2.2"/><circle cx="889.2" cy="1187.0" r="2.2"/><circle cx="899.7" cy="1187.0" r="2.2"/><circle cx="910.1" cy="1187.0" r="2.2"/><circle cx="920.6" cy="1187.0" r="2.2"/><circle cx="931.0" cy="1187.0" r="2.2"/><circle cx="941.5" cy="1187.0" r="2.2"/><circle cx="951.9" cy="1187.0" r="2.2"/><circle cx="962.4" cy="1187.0" r="2.2"/><circle cx="972.8" cy="1187.0" r="2.2"/><circle cx="983.3" cy="1187.0" r="2.2"/><circle cx="993.8" cy="1187.0" r="2.2"/><circle cx="1004.2" cy="1187.0" r="2.2"/><circle cx="1014.6" cy="1187.0" r="2.2"/><circle cx="1025.1" cy="1187.0" r="2.2"/><circle cx="1035.5" cy="1187.0" r="2.2"/><circle cx="1046.0" cy="1187.0" r="2.2"/><circle cx="1056.5" cy="1187.0" r="2.2"/><circle cx="1066.9" cy="1187.0" r="2.2"/><circle cx="1077.3" cy="1187.0" r="2.2"/><circle cx="1087.8" cy="1187.0" r="2.2"/><circle cx="1098.2" cy="1187.0" r="2.2"/><circle cx="1108.7" cy="1187.0" r="2.2"/><circle cx="1119.2" cy="1187.0" r="2.2"/><circle cx="1129.6" cy="1187.0" r="2.2"/></g>
<g fill="#12b416"><circle cx="868.4" cy="1187.0" r="2.2"/></g>
<line x1="857.9" y1="1187.0" x2="1129.6" y2="1187.0" stroke="#ff8c0a" stroke-width="1.3"/>
<rect x="850.4" y="1052.85" width="2" height="192.25" fill="#000"/>
<rect x="842.9" y="1243.1" width="293.79999999999984" height="2" fill="#000"/>
<rect x="842.9" y="1052.8" width="8" height="2" fill="#000"/>
<text x="839.8" y="1059.2" font-size="15" text-anchor="end" fill="#000">5</text>
<rect x="842.9" y="1090.9" width="8" height="2" fill="#000"/>
<text x="839.8" y="1097.3" font-size="15" text-anchor="end" fill="#000">4</text>
<rect x="842.9" y="1128.9" width="8" height="2" fill="#000"/>
<text x="839.8" y="1135.3" font-size="15" text-anchor="end" fill="#000">3</text>
<rect x="842.9" y="1167.0" width="8" height="2" fill="#000"/>
<text x="839.8" y="1173.4" font-size="15" text-anchor="end" fill="#000">2</text>
<rect x="842.9" y="1186.0" width="8" height="2" fill="#000"/>
<rect x="842.9" y="1205.0" width="8" height="2" fill="#000"/>
<text x="839.8" y="1211.4" font-size="15" text-anchor="end" fill="#000">1</text>
<rect x="842.9" y="1243.1" width="8" height="2" fill="#000"/>
<text x="839.8" y="1249.5" font-size="15" text-anchor="end" fill="#000">0</text>
<rect x="856.9" y="1244.1" width="2" height="8.7" fill="#000"/>
<rect x="877.8" y="1244.1" width="2" height="8.7" fill="#000"/>
<rect x="898.7" y="1244.1" width="2" height="8.7" fill="#000"/>
<rect x="919.6" y="1244.1" width="2" height="8.7" fill="#000"/>
<rect x="940.5" y="1244.1" width="2" height="8.7" fill="#000"/>
<rect x="961.4" y="1244.1" width="2" height="8.7" fill="#000"/>
<rect x="982.3" y="1244.1" width="2" height="8.7" fill="#000"/>
<rect x="1003.2" y="1244.1" width="2" height="8.7" fill="#000"/>
<rect x="1024.1" y="1244.1" width="2" height="8.7" fill="#000"/>
<rect x="1045.0" y="1244.1" width="2" height="8.7" fill="#000"/>
<rect x="1065.9" y="1244.1" width="2" height="8.7" fill="#000"/>
<rect x="1086.8" y="1244.1" width="2" height="8.7" fill="#000"/>
<rect x="1107.7" y="1244.1" width="2" height="8.7" fill="#000"/>
<rect x="1128.6" y="1244.1" width="2" height="8.7" fill="#000"/>
<line x1="1208.3" y1="1187.5" x2="1479.7" y2="1187.5" stroke="#000" stroke-width="1.4" stroke-dasharray="1.4 3.8" stroke-linecap="round"/>
<line x1="1208.3" y1="1187.5" x2="1479.7" y2="1187.5" stroke="#12c412" stroke-width="1.3"/>
<polyline points="1281.4,1187.5 1291.8,1073.1 1302.3,1187.5" fill="none" stroke="#12c412" stroke-width="1.3" stroke-linejoin="round"/>
<polyline points="1260.5,1187.5 1270.9,1126.5 1281.4,1187.5" fill="none" stroke="#ff2410" stroke-width="1.3" stroke-linejoin="round"/>
<polyline points="1323.1,1187.5 1333.6,1089.1 1344.0,1187.5" fill="none" stroke="#ff2410" stroke-width="1.3" stroke-linejoin="round"/>
<polyline points="1354.5,1187.5 1364.9,1116.9 1375.3,1187.5" fill="none" stroke="#0a3ee6" stroke-width="1.3" stroke-linejoin="round"/>
<g fill="#b43cf2"><circle cx="1208.3" cy="1187.5" r="2.2"/><circle cx="1218.7" cy="1187.5" r="2.2"/><circle cx="1229.2" cy="1187.5" r="2.2"/><circle cx="1239.6" cy="1187.5" r="2.2"/><circle cx="1250.1" cy="1187.5" r="2.2"/><circle cx="1260.5" cy="1187.5" r="2.2"/><circle cx="1270.9" cy="1187.5" r="2.2"/><circle cx="1281.4" cy="1187.5" r="2.2"/><circle cx="1291.8" cy="1187.5" r="2.2"/><circle cx="1302.3" cy="1187.5" r="2.2"/><circle cx="1312.7" cy="1187.5" r="2.2"/><circle cx="1323.1" cy="1187.5" r="2.2"/><circle cx="1333.6" cy="1187.5" r="2.2"/><circle cx="1344.0" cy="1187.5" r="2.2"/><circle cx="1354.5" cy="1187.5" r="2.2"/><circle cx="1364.9" cy="1187.5" r="2.2"/><circle cx="1375.3" cy="1187.5" r="2.2"/><circle cx="1385.8" cy="1187.5" r="2.2"/><circle cx="1396.2" cy="1187.5" r="2.2"/><circle cx="1406.7" cy="1187.5" r="2.2"/><circle cx="1417.1" cy="1187.5" r="2.2"/><circle cx="1427.5" cy="1187.5" r="2.2"/><circle cx="1438.0" cy="1187.5" r="2.2"/><circle cx="1448.4" cy="1187.5" r="2.2"/><circle cx="1458.9" cy="1187.5" r="2.2"/><circle cx="1469.3" cy="1187.5" r="2.2"/><circle cx="1479.7" cy="1187.5" r="2.2"/></g>
<g fill="#12b416"><circle cx="1312.7" cy="1187.5" r="2.2"/></g>
<g fill="#12b43c"><circle cx="1333.6" cy="1187.5" r="2.2"/></g>
<polyline points="1208.3,1187.5 1218.7,1187.5 1229.2,1187.5 1239.6,1187.5 1250.1,1187.5 1260.5,1187.5 1270.9,1187.5 1281.4,1187.5 1291.8,1187.5 1302.3,1187.5 1312.7,1091.4 1323.1,1187.5 1333.6,1187.5 1344.0,1187.5 1354.5,1187.5 1364.9,1187.5 1375.3,1187.5 1385.8,1187.5 1396.2,1187.5 1406.7,1187.5 1417.1,1187.5 1427.5,1187.5 1438.0,1187.5 1448.4,1187.5 1458.9,1187.5 1469.3,1187.5 1479.7,1187.5" fill="none" stroke="#ff8c0a" stroke-width="1.3" stroke-linejoin="round"/>
<polyline points="1302.3,1187.5 1312.7,1116.5 1323.1,1187.5" fill="none" stroke="#b43cf2" stroke-width="1.5" stroke-linejoin="round"/>
<polyline points="1323.1,1187.5 1333.6,1092.1 1344.0,1187.5" fill="none" stroke="#b43cf2" stroke-width="1.5" stroke-linejoin="round"/>
<g fill="#12b416"><circle cx="1291.8" cy="1073.1" r="2.2"/></g>
<g fill="#ff2410"><circle cx="1270.9" cy="1126.5" r="2.2"/></g>
<g fill="#ff2410"><circle cx="1333.6" cy="1088.3" r="2.2"/></g>
<g fill="#b43cf2"><circle cx="1312.7" cy="1116.5" r="2.2"/></g>
<g fill="#b43cf2"><circle cx="1333.6" cy="1092.9" r="2.2"/></g>
<g fill="#0a3ee6"><circle cx="1364.9" cy="1116.9" r="2.2"/></g>
<rect x="1200.9" y="1053.0" width="2" height="192.70000000000005" fill="#000"/>
<rect x="1193.4" y="1243.7" width="293.4399999999998" height="2" fill="#000"/>
<rect x="1193.4" y="1053.0" width="8" height="2" fill="#000"/>
<text x="1190.3000000000002" y="1059.4" font-size="15" text-anchor="end" fill="#000">5</text>
<rect x="1193.4" y="1091.1" width="8" height="2" fill="#000"/>
<text x="1190.3000000000002" y="1097.5" font-size="15" text-anchor="end" fill="#000">4</text>
<rect x="1193.4" y="1129.3" width="8" height="2" fill="#000"/>
<text x="1190.3000000000002" y="1135.6" font-size="15" text-anchor="end" fill="#000">3</text>
<rect x="1193.4" y="1167.4" width="8" height="2" fill="#000"/>
<text x="1190.3000000000002" y="1173.8" font-size="15" text-anchor="end" fill="#000">2</text>
<rect x="1193.4" y="1186.5" width="8" height="2" fill="#000"/>
<rect x="1193.4" y="1205.6" width="8" height="2" fill="#000"/>
<text x="1190.3000000000002" y="1211.9" font-size="15" text-anchor="end" fill="#000">1</text>
<rect x="1193.4" y="1243.7" width="8" height="2" fill="#000"/>
<text x="1190.3000000000002" y="1250.1" font-size="15" text-anchor="end" fill="#000">0</text>
<rect x="1207.3" y="1244.7" width="2" height="8.7" fill="#000"/>
<rect x="1228.2" y="1244.7" width="2" height="8.7" fill="#000"/>
<rect x="1249.1" y="1244.7" width="2" height="8.7" fill="#000"/>
<rect x="1269.9" y="1244.7" width="2" height="8.7" fill="#000"/>
<rect x="1290.8" y="1244.7" width="2" height="8.7" fill="#000"/>
<rect x="1311.7" y="1244.7" width="2" height="8.7" fill="#000"/>
<rect x="1332.6" y="1244.7" width="2" height="8.7" fill="#000"/>
<rect x="1353.5" y="1244.7" width="2" height="8.7" fill="#000"/>
<rect x="1374.3" y="1244.7" width="2" height="8.7" fill="#000"/>
<rect x="1395.2" y="1244.7" width="2" height="8.7" fill="#000"/>
<rect x="1416.1" y="1244.7" width="2" height="8.7" fill="#000"/>
<rect x="1437.0" y="1244.7" width="2" height="8.7" fill="#000"/>
<rect x="1457.9" y="1244.7" width="2" height="8.7" fill="#000"/>
<rect x="1478.7" y="1244.7" width="2" height="8.7" fill="#000"/>
<line x1="859.4" y1="1409.1" x2="1132.0" y2="1409.1" stroke="#000" stroke-width="1.4" stroke-dasharray="1.4 3.8" stroke-linecap="round"/>
<g fill="#f6c48e" stroke="#b87333" stroke-width="0.8"><circle cx="859.4" cy="1409.1" r="2.35"/><circle cx="869.9" cy="1409.1" r="2.35"/><circle cx="880.4" cy="1409.1" r="2.35"/><circle cx="890.9" cy="1409.1" r="2.35"/><circle cx="901.3" cy="1409.1" r="2.35"/><circle cx="911.8" cy="1409.1" r="2.35"/><circle cx="922.3" cy="1409.1" r="2.35"/><circle cx="932.8" cy="1409.1" r="2.35"/><circle cx="943.3" cy="1409.1" r="2.35"/><circle cx="953.8" cy="1409.1" r="2.35"/><circle cx="964.2" cy="1409.1" r="2.35"/><circle cx="974.7" cy="1409.1" r="2.35"/><circle cx="985.2" cy="1409.1" r="2.35"/><circle cx="995.7" cy="1409.1" r="2.35"/><circle cx="1006.2" cy="1409.1" r="2.35"/><circle cx="1016.7" cy="1409.1" r="2.35"/><circle cx="1027.2" cy="1409.1" r="2.35"/><circle cx="1037.6" cy="1409.1" r="2.35"/><circle cx="1048.1" cy="1409.1" r="2.35"/><circle cx="1058.6" cy="1409.1" r="2.35"/><circle cx="1069.1" cy="1409.1" r="2.35"/><circle cx="1079.6" cy="1409.1" r="2.35"/><circle cx="1090.1" cy="1409.1" r="2.35"/><circle cx="1100.6" cy="1409.1" r="2.35"/><circle cx="1111.0" cy="1409.1" r="2.35"/><circle cx="1121.5" cy="1409.1" r="2.35"/><circle cx="1132.0" cy="1409.1" r="2.35"/></g>
<line x1="855.1" y1="1408.8" x2="1129.2" y2="1408.8" stroke="#7f9a18" stroke-width="1.6"/>
<line x1="855.1" y1="1409.3" x2="1129.2" y2="1409.3" stroke="#0be30b" stroke-width="1.7"/>
<rect x="852" y="1274.2" width="2" height="193.29999999999995" fill="#000"/>
<rect x="844.5" y="1465.5" width="294.6099999999999" height="2" fill="#000"/>
<rect x="844.5" y="1274.2" width="8" height="2" fill="#000"/>
<text x="841.4" y="1280.6" font-size="15" text-anchor="end" fill="#000">5</text>
<rect x="844.5" y="1312.5" width="8" height="2" fill="#000"/>
<text x="841.4" y="1318.8" font-size="15" text-anchor="end" fill="#000">4</text>
<rect x="844.5" y="1350.7" width="8" height="2" fill="#000"/>
<text x="841.4" y="1357.1" font-size="15" text-anchor="end" fill="#000">3</text>
<rect x="844.5" y="1389.0" width="8" height="2" fill="#000"/>
<text x="841.4" y="1395.3" font-size="15" text-anchor="end" fill="#000">2</text>
<rect x="844.5" y="1408.1" width="8" height="2" fill="#000"/>
<rect x="844.5" y="1427.2" width="8" height="2" fill="#000"/>
<text x="841.4" y="1433.6" font-size="15" text-anchor="end" fill="#000">1</text>
<rect x="844.5" y="1465.5" width="8" height="2" fill="#000"/>
<text x="841.4" y="1471.9" font-size="15" text-anchor="end" fill="#000">0</text>
<rect x="858.4" y="1466.5" width="2" height="8.7" fill="#000"/>
<rect x="879.4" y="1466.5" width="2" height="8.7" fill="#000"/>
<rect x="900.3" y="1466.5" width="2" height="8.7" fill="#000"/>
<rect x="921.3" y="1466.5" width="2" height="8.7" fill="#000"/>
<rect x="942.3" y="1466.5" width="2" height="8.7" fill="#000"/>
<rect x="963.2" y="1466.5" width="2" height="8.7" fill="#000"/>
<rect x="984.2" y="1466.5" width="2" height="8.7" fill="#000"/>
<rect x="1005.2" y="1466.5" width="2" height="8.7" fill="#000"/>
<rect x="1026.2" y="1466.5" width="2" height="8.7" fill="#000"/>
<rect x="1047.1" y="1466.5" width="2" height="8.7" fill="#000"/>
<rect x="1068.1" y="1466.5" width="2" height="8.7" fill="#000"/>
<rect x="1089.1" y="1466.5" width="2" height="8.7" fill="#000"/>
<rect x="1110.0" y="1466.5" width="2" height="8.7" fill="#000"/>
<rect x="1131.0" y="1466.5" width="2" height="8.7" fill="#000"/>
<text x="859.4" y="1491.0" font-size="15" text-anchor="middle" fill="#000">1</text>
<text x="880.4" y="1491.0" font-size="15" text-anchor="middle" fill="#000">2</text>
<text x="901.3" y="1491.0" font-size="15" text-anchor="middle" fill="#000">3</text>
<text x="922.3" y="1491.0" font-size="15" text-anchor="middle" fill="#000">4</text>
<text x="943.3" y="1491.0" font-size="15" text-anchor="middle" fill="#000">5</text>
<text x="964.2" y="1491.0" font-size="15" text-anchor="middle" fill="#000">6</text>
<text x="985.2" y="1491.0" font-size="15" text-anchor="middle" fill="#000">7</text>
<text x="1006.2" y="1491.0" font-size="15" text-anchor="middle" fill="#000">8</text>
<text x="1027.2" y="1491.0" font-size="15" text-anchor="middle" fill="#000">9</text>
<text x="1048.1" y="1491.0" font-size="15" text-anchor="middle" fill="#000">10</text>
<text x="1069.1" y="1491.0" font-size="15" text-anchor="middle" fill="#000">11</text>
<text x="1090.1" y="1491.0" font-size="15" text-anchor="middle" fill="#000">12</text>
<text x="1111.0" y="1491.0" font-size="15" text-anchor="middle" fill="#000">13</text>
<text x="1132.0" y="1491.0" font-size="15" text-anchor="middle" fill="#000">14</text>
<line x1="1208.3" y1="1409.3" x2="1479.7" y2="1409.3" stroke="#000" stroke-width="1.4" stroke-dasharray="1.4 3.8" stroke-linecap="round"/>
<g fill="#f6c48e" stroke="#b87333" stroke-width="0.8"><circle cx="1208.3" cy="1409.3" r="2.35"/><circle cx="1218.7" cy="1409.3" r="2.35"/><circle cx="1229.2" cy="1409.3" r="2.35"/><circle cx="1239.6" cy="1409.3" r="2.35"/><circle cx="1250.1" cy="1409.3" r="2.35"/><circle cx="1260.5" cy="1409.3" r="2.35"/><circle cx="1270.9" cy="1409.3" r="2.35"/><circle cx="1281.4" cy="1409.3" r="2.35"/><circle cx="1291.8" cy="1409.3" r="2.35"/><circle cx="1302.3" cy="1409.3" r="2.35"/><circle cx="1312.7" cy="1409.3" r="2.35"/><circle cx="1323.1" cy="1409.3" r="2.35"/><circle cx="1333.6" cy="1409.3" r="2.35"/><circle cx="1344.0" cy="1409.3" r="2.35"/><circle cx="1354.5" cy="1409.3" r="2.35"/><circle cx="1364.9" cy="1409.3" r="2.35"/><circle cx="1375.3" cy="1409.3" r="2.35"/><circle cx="1385.8" cy="1409.3" r="2.35"/><circle cx="1396.2" cy="1409.3" r="2.35"/><circle cx="1406.7" cy="1409.3" r="2.35"/><circle cx="1417.1" cy="1409.3" r="2.35"/><circle cx="1427.5" cy="1409.3" r="2.35"/><circle cx="1438.0" cy="1409.3" r="2.35"/><circle cx="1448.4" cy="1409.3" r="2.35"/><circle cx="1458.9" cy="1409.3" r="2.35"/><circle cx="1469.3" cy="1409.3" r="2.35"/><circle cx="1479.7" cy="1409.3" r="2.35"/></g>
<line x1="1207.3" y1="1409.3" x2="1480.7" y2="1409.3" stroke="#0be30b" stroke-width="3.1"/>
<rect x="1200.9" y="1274.8" width="2" height="192.70000000000005" fill="#000"/>
<rect x="1193.4" y="1465.5" width="293.4399999999998" height="2" fill="#000"/>
<rect x="1193.4" y="1274.8" width="8" height="2" fill="#000"/>
<text x="1190.3000000000002" y="1281.2" font-size="15" text-anchor="end" fill="#000">5</text>
<rect x="1193.4" y="1312.9" width="8" height="2" fill="#000"/>
<text x="1190.3000000000002" y="1319.3" font-size="15" text-anchor="end" fill="#000">4</text>
<rect x="1193.4" y="1351.1" width="8" height="2" fill="#000"/>
<text x="1190.3000000000002" y="1357.4" font-size="15" text-anchor="end" fill="#000">3</text>
<rect x="1193.4" y="1389.2" width="8" height="2" fill="#000"/>
<text x="1190.3000000000002" y="1395.6" font-size="15" text-anchor="end" fill="#000">2</text>
<rect x="1193.4" y="1408.3" width="8" height="2" fill="#000"/>
<rect x="1193.4" y="1427.4" width="8" height="2" fill="#000"/>
<text x="1190.3000000000002" y="1433.7" font-size="15" text-anchor="end" fill="#000">1</text>
<rect x="1193.4" y="1465.5" width="8" height="2" fill="#000"/>
<text x="1190.3000000000002" y="1471.9" font-size="15" text-anchor="end" fill="#000">0</text>
<rect x="1207.3" y="1466.5" width="2" height="8.7" fill="#000"/>
<rect x="1228.2" y="1466.5" width="2" height="8.7" fill="#000"/>
<rect x="1249.1" y="1466.5" width="2" height="8.7" fill="#000"/>
<rect x="1269.9" y="1466.5" width="2" height="8.7" fill="#000"/>
<rect x="1290.8" y="1466.5" width="2" height="8.7" fill="#000"/>
<rect x="1311.7" y="1466.5" width="2" height="8.7" fill="#000"/>
<rect x="1332.6" y="1466.5" width="2" height="8.7" fill="#000"/>
<rect x="1353.5" y="1466.5" width="2" height="8.7" fill="#000"/>
<rect x="1374.3" y="1466.5" width="2" height="8.7" fill="#000"/>
<rect x="1395.2" y="1466.5" width="2" height="8.7" fill="#000"/>
<rect x="1416.1" y="1466.5" width="2" height="8.7" fill="#000"/>
<rect x="1437.0" y="1466.5" width="2" height="8.7" fill="#000"/>
<rect x="1457.9" y="1466.5" width="2" height="8.7" fill="#000"/>
<rect x="1478.7" y="1466.5" width="2" height="8.7" fill="#000"/>
<text x="1208.3" y="1491.0" font-size="15" text-anchor="middle" fill="#000">1</text>
<text x="1229.2" y="1491.0" font-size="15" text-anchor="middle" fill="#000">2</text>
<text x="1250.1" y="1491.0" font-size="15" text-anchor="middle" fill="#000">3</text>
<text x="1270.9" y="1491.0" font-size="15" text-anchor="middle" fill="#000">4</text>
<text x="1291.8" y="1491.0" font-size="15" text-anchor="middle" fill="#000">5</text>
<text x="1312.7" y="1491.0" font-size="15" text-anchor="middle" fill="#000">6</text>
<text x="1333.6" y="1491.0" font-size="15" text-anchor="middle" fill="#000">7</text>
<text x="1354.5" y="1491.0" font-size="15" text-anchor="middle" fill="#000">8</text>
<text x="1375.3" y="1491.0" font-size="15" text-anchor="middle" fill="#000">9</text>
<text x="1396.2" y="1491.0" font-size="15" text-anchor="middle" fill="#000">10</text>
<text x="1417.1" y="1491.0" font-size="15" text-anchor="middle" fill="#000">11</text>
<text x="1438.0" y="1491.0" font-size="15" text-anchor="middle" fill="#000">12</text>
<text x="1458.9" y="1491.0" font-size="15" text-anchor="middle" fill="#000">13</text>
<text x="1479.7" y="1491.0" font-size="15" text-anchor="middle" fill="#000">14</text>
</svg>
</body></html>
